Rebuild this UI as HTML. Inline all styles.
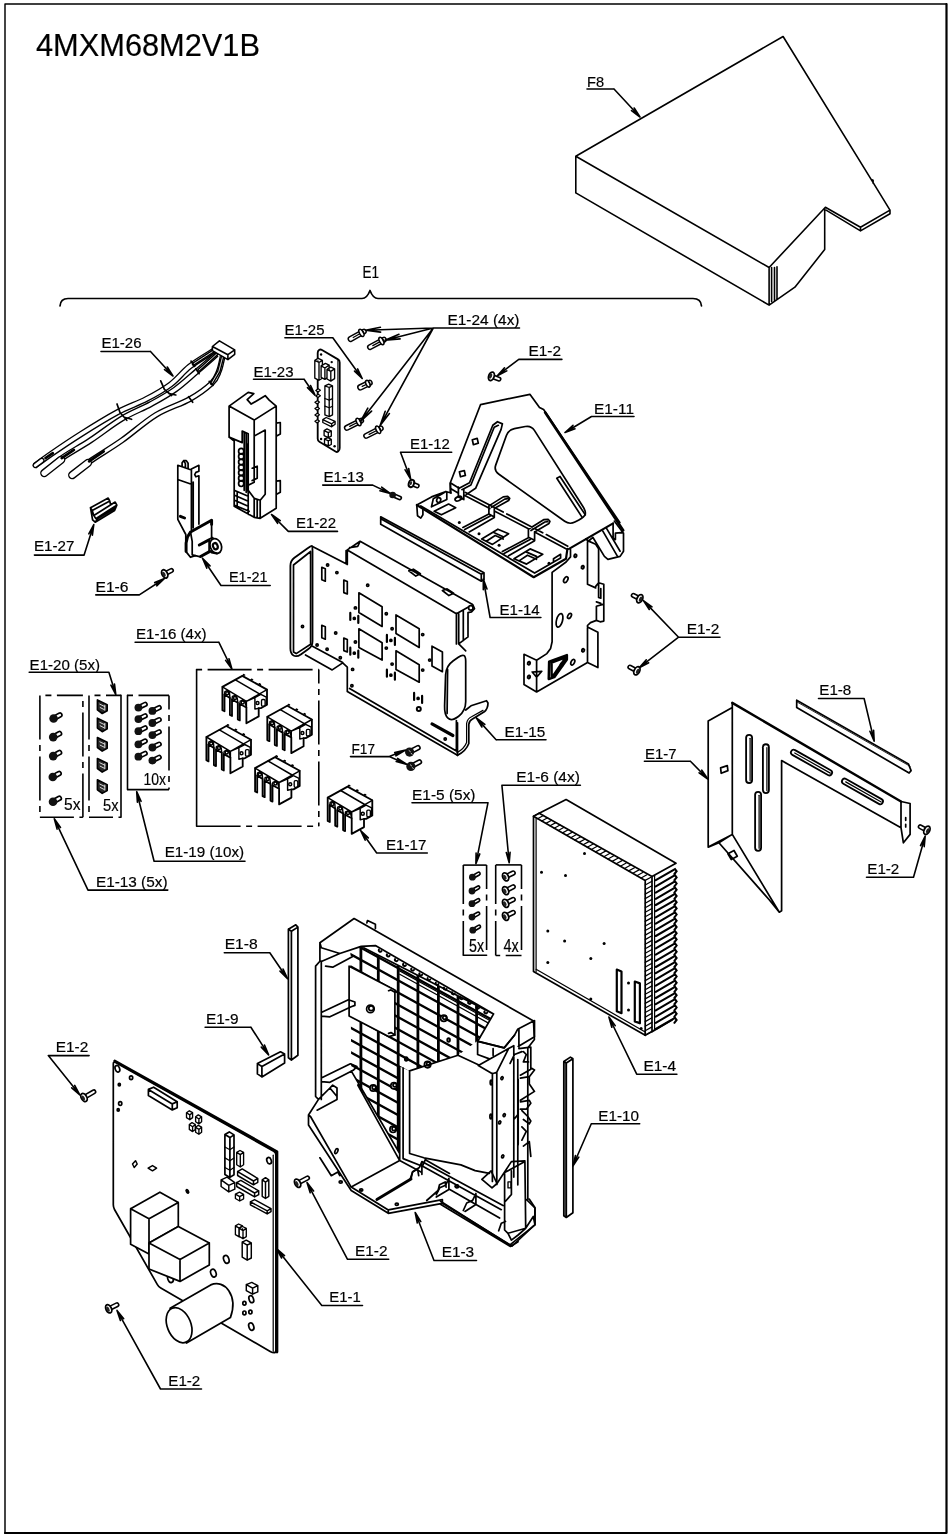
<!DOCTYPE html>
<html lang="en"><head><meta charset="utf-8"><title>4MXM68M2V1B</title>
<style>
html,body{margin:0;padding:0;background:#fff}
body{width:948px;height:1538px;overflow:hidden}
svg{display:block;will-change:transform}
svg text{font-family:"Liberation Sans",sans-serif;fill:#000;stroke:#000;stroke-width:.2px}
</style></head><body>
<svg width="948" height="1538" viewBox="0 0 948 1538" fill="none" stroke="#000" stroke-width="1.71" stroke-linecap="round" stroke-linejoin="round">
<path d="M5 1533 L5 4 L946.5 4" stroke-width="1.46"/>
<path d="M946.5 4 L946.5 1533 L5 1533" stroke-width="2.2"/>
<text x="36" y="55.6" font-size="32" textLength="224" lengthAdjust="spacingAndGlyphs">4MXM68M2V1B</text>
<path d="M60 306 Q60.5 298.5 68 298.5 L362 298.5 Q367 298.5 370 290.5 Q373 298.5 378 298.5 L693 298.5 Q701 298.5 701.5 306"/>
<text x="362.5" y="278" font-size="16" textLength="16.5" lengthAdjust="spacingAndGlyphs">E1</text>
<path d="M783.1 36.5 L575.8 156.3 L769.1 267.5 L825.4 207.2 L860.5 227.3 L890 210.1 L871.3 179.6ZM575.8 156.3 L575.8 192.9 L769.1 305.1 L769.1 267.5M769.1 305.1 L777 299.7 L794.9 287.2 L824.7 249.5 L824.7 208.3M771.6 267.5 L771.6 301.5M774.5 267.5 L774.5 300.5M777 266.8 L777 299.7M826.1 210.1 L860.5 230.9 L890 213.7 L890 210.1M860.5 227.3 L860.5 230.9M871.3 179.6 L873.1 180.3 L873.1 183.2" stroke-width="1.59"/>
<text x="587" y="86.5" font-size="15.5" textLength="17" lengthAdjust="spacingAndGlyphs">F8</text>
<path d="M587 89 L614 89M614 89 L640 117M631.5 110.6 L640 117 L634.2 108" stroke-width="1.59"/>
<path d="M70.9 475.6 C74.2 473.2 81.9 466.9 90.4 461 C98.9 455.1 111 448.1 121.9 440.4 C132.8 432.7 144.6 421.8 155.9 414.9 C167.2 408 180.5 404.4 189.8 399.1 C199.1 393.9 206.8 388 211.7 383.4 C216.5 378.8 217.1 375.6 218.9 371.2 C220.7 366.8 222 359.1 222.6 356.7" stroke-width="5.86" stroke-linecap="butt"/>
<path d="M70.9 475.6 C74.2 473.2 81.9 466.9 90.4 461 C98.9 455.1 111 448.1 121.9 440.4 C132.8 432.7 144.6 421.8 155.9 414.9 C167.2 408 180.5 404.4 189.8 399.1 C199.1 393.9 206.8 388 211.7 383.4 C216.5 378.8 217.1 375.6 218.9 371.2 C220.7 366.8 222 359.1 222.6 356.7" stroke-width="3.17" stroke="#fff" stroke-linecap="butt"/>
<path d="M43 474.4 C46 471.8 53.3 464.3 61.2 458.6 C69.1 452.9 80.3 447.1 90.4 440.4 C100.5 433.7 111.8 424.7 121.9 418.6 C132 412.5 142.1 408.9 151 404 C159.9 399.1 167.6 394.9 175.3 389.4 C183 383.9 190.2 377 197.1 371.2 C204 365.4 213.3 357.1 216.5 354.3" stroke-width="6.1" stroke-linecap="butt"/>
<path d="M43 474.4 C46 471.8 53.3 464.3 61.2 458.6 C69.1 452.9 80.3 447.1 90.4 440.4 C100.5 433.7 111.8 424.7 121.9 418.6 C132 412.5 142.1 408.9 151 404 C159.9 399.1 167.6 394.9 175.3 389.4 C183 383.9 190.2 377 197.1 371.2 C204 365.4 213.3 357.1 216.5 354.3" stroke-width="3.42" stroke="#fff" stroke-linecap="butt"/>
<path d="M34.6 465.9 C37.4 463.9 43.8 459 51.5 453.7 C59.2 448.4 69.8 441.2 80.7 434.3 C91.6 427.4 106.1 418.4 117 412.5 C127.9 406.6 137.3 403.8 146.2 399.1 C155.1 394.5 163.1 390.1 170.4 384.6 C177.7 379.2 182.5 372.1 189.8 366.4 C197.1 360.7 210.1 353.2 214.1 350.6" stroke-width="6.1" stroke-linecap="butt"/>
<path d="M34.6 465.9 C37.4 463.9 43.8 459 51.5 453.7 C59.2 448.4 69.8 441.2 80.7 434.3 C91.6 427.4 106.1 418.4 117 412.5 C127.9 406.6 137.3 403.8 146.2 399.1 C155.1 394.5 163.1 390.1 170.4 384.6 C177.7 379.2 182.5 372.1 189.8 366.4 C197.1 360.7 210.1 353.2 214.1 350.6" stroke-width="3.42" stroke="#fff" stroke-linecap="butt"/>
<path d="M211.7 383.4 L218.9 371.2 L222.6 356.7" stroke-width="3.66"/>
<path d="M211.7 383.4 L218.9 371.2 L222.6 356.7" stroke-width="0.85" stroke="#fff"/>
<path d="M199.1 370 L216.5 354.3" stroke-width="3.66"/>
<path d="M199.1 370 L216.5 354.3" stroke-width="0.85" stroke="#fff"/>
<path d="M193.5 364 L214.1 350.6" stroke-width="3.66"/>
<path d="M193.5 364 L214.1 350.6" stroke-width="0.85" stroke="#fff"/>
<path d="M72.2 475.1 L87.9 463" stroke-width="8.3" stroke-linecap="round"/>
<path d="M72.2 475.1 L87.9 463" stroke-width="5.61" stroke="#fff" stroke-linecap="round"/>
<path d="M44.3 473.1 L61.2 459.8" stroke-width="8.3" stroke-linecap="round"/>
<path d="M44.3 473.1 L61.2 459.8" stroke-width="5.61" stroke="#fff" stroke-linecap="round"/>
<path d="M35.3 465.4 L41.8 460.5" stroke-width="5.61" stroke-linecap="round"/>
<path d="M35.3 465.4 L41.8 460.5" stroke-width="2.93" stroke="#fff" stroke-linecap="round"/>
<path d="M61.7 458.1 L73.9 449.9M89.1 461.3 L103.7 451.3M45.5 458.1 L52.8 453.2" stroke-width="2.68"/>
<path d="M117 404 L120 412.5 L126.8 420.3M124.3 417.3 L131.6 419.3M160.7 380.9 L164.4 389.4 L171.6 395.5M169.2 393.6 L175.8 395M191 361.1 L194.7 366.4M195.9 368.8 L199.1 373.7M209.2 381.4 L212.9 385.3M188.6 396.7 L192.7 402.3"/>
<path d="M212.4 346.5 L219.4 340.9 L234.7 349.9 L227.9 354.7ZM212.4 346.5 L212.4 350.6 L227.9 359.6 L234.7 354.3 L234.7 349.9M227.9 354.7 L227.9 359.6" stroke-width="1.59" fill="#fff"/>
<text x="101.5" y="347.5" font-size="15.5" textLength="40" lengthAdjust="spacingAndGlyphs">E1-26</text>
<path d="M101 351.5 L150.5 351.5M150.5 351.5 L173 376M164.5 369.6 L173 376 L167.3 367" stroke-width="1.59"/>
<path d="M229.1 406.1 L248.2 392.4 L253.8 393.6 L247.2 399.7 L251.2 404.1 L265.2 395.7 L269.2 400.1 L276.2 406.1 L276.2 508.3 L260.2 518.3 L254.2 517.3 L234.2 506.3 L234.2 441.1 L229.1 437.1ZM229.1 406.1 L254.2 420.1 L276.2 406.1M254.2 420.1 L254.2 436.1M229.1 437.1 L242.2 442.6 L242.2 431.1 L248.2 433.7 L248.2 444.2M254.2 436.1 L265.2 430.1 L265.2 494.3 L260.2 500.3 L254.2 498.3 L248.2 490.3 L248.2 444.2M244.2 432.5 L244.2 490.3M246.2 433.3 L246.2 492.3M254.2 436.1 L254.2 482.2 L248.2 485.2M252.2 468.2 L257.2 466.2 L257.2 478.2 L252.2 480.6M254.2 498.3 L254.2 517.3M260.2 500.3 L260.2 518.3M257.2 499.3 L257.2 517.7M276.2 423.1 L280.3 422.5 L280.3 434.1 L276.6 436.1M276.2 481.2 L280.3 480.6 L280.3 492.3 L276.6 494.3M234.2 490.3 L248.2 496.3M234.6 495.3 L248.2 501.3M234.6 500.3 L248.2 506.3M234.6 505.3 L249.2 511.3M248.2 490.3 L248.2 514.3M237.2 492.3 L237.2 507.3"/>
<ellipse cx="241.2" cy="451.2" rx="2.6" ry="2.9"/>
<ellipse cx="241.2" cy="456.6" rx="2.6" ry="2.9"/>
<ellipse cx="241.2" cy="462" rx="2.6" ry="2.9"/>
<ellipse cx="241.2" cy="467.4" rx="2.6" ry="2.9"/>
<ellipse cx="241.2" cy="472.8" rx="2.6" ry="2.9"/>
<ellipse cx="241.2" cy="478.2" rx="2.6" ry="2.9"/>
<ellipse cx="241.2" cy="483.6" rx="2.6" ry="2.9"/>
<path d="M247.6 444.6 L247.6 490.3" stroke-width="2.68"/>
<text x="296" y="528.3" font-size="15.5" textLength="40" lengthAdjust="spacingAndGlyphs">E1-22</text>
<path d="M288.3 531.4 L337.5 531.4M288.3 531.4 L271.5 514.5M280.3 520.6 L271.5 514.5 L277.6 523.3" stroke-width="1.59"/>
<path d="M177.8 465.3 L177.8 519.3 L185.8 534.5 L185.8 551.4 L190.5 557.3 L195.2 555.6 L200.6 556.8M191.4 469 L198.9 465.3 L198.9 471.2 L195.9 472.4 L194.7 474.6 L195.9 476.8 L198.9 475.8 L198.9 524.1M177.8 465.3 L191.4 470 L191.4 529.5M182.1 466.7 L182.1 462.8 L183.8 460.6 L186.3 460.6 L188.1 463.3 L188.1 468.7M183.8 460.6 L185.4 463.6 L185.4 467.8M178.4 479.7 L191.4 484.2M193.2 482.2 L193.2 527.8"/>
<path d="M190.5 532 L211.6 520.2 L211.6 524.4M190.5 532 L187.5 537 L186.1 543 L186.1 551.4M199.3 545 L209.1 539.9M200.6 556.5 L209.9 551.4M180.4 516.3 L184.6 518" stroke-width="2.93"/>
<path d="M211.6 524.4 L211.6 538.7M190.5 532 L192.2 541.3 L192.2 554.8M192.2 554.8 L195.2 555.6M209.1 539.9 L209.1 551.4"/>
<ellipse cx="215.8" cy="546" rx="5.6" ry="7.6" fill="#fff" transform="rotate(-20 215.8 546)"/>
<ellipse cx="215.3" cy="546" rx="2.3" ry="3.2" transform="rotate(-20 215.8 546)" stroke-width="2.2"/>
<path d="M209.9 538.7 L212.8 537.6"/>
<path d="M211.6 552.2 L216.7 553.4" stroke-width="2.44"/>
<text x="229" y="582.3" font-size="15.5" textLength="38.5" lengthAdjust="spacingAndGlyphs">E1-21</text>
<path d="M221 585.5 L270.2 585.5M221 585.5 L202.5 558.3M210 565.9 L202.5 558.3 L206.8 568.1" stroke-width="1.59"/>
<path d="M90.5 507.7 L108.2 498.1 L109.8 501.1 L92.2 510.5ZM93.8 515.4 L115.2 502.1 L116.8 505.1 L95.8 518.6ZM90.5 507.7 L92.6 519.8 L95.2 522.2 L97.8 518.6M95.2 522.2 L114.6 510.5 L116.8 505.1M97.8 518.6 L115.8 507.7M92.2 510.5 L93.8 515.4M109.8 501.1 L110.6 504.5"/>
<text x="34" y="551.2" font-size="15.5" textLength="40.5" lengthAdjust="spacingAndGlyphs">E1-27</text>
<path d="M34.4 555.1 L84.1 555.1M84.1 555.1 L93.8 524.5M92.4 535.1 L93.8 524.5 L88.8 533.9" stroke-width="1.59"/>
<path d="M164.7 573.9 L171.4 570.5" stroke-width="5.25" stroke-linecap="round"/>
<path d="M164.7 573.9 L171.4 570.5" stroke-width="2.07" stroke="#fff" stroke-linecap="round"/>
<ellipse cx="164.7" cy="573.9" rx="2.7" ry="4.4" fill="#fff" stroke-width="1.83" transform="rotate(-27.1 164.7 573.9)"/>
<ellipse cx="163.9" cy="574.3" rx="1.4850000000000003" ry="2.728" fill="#222" stroke="none" transform="rotate(-27.1 163.9 574.3)"/>
<text x="95.5" y="591.7" font-size="15.5" textLength="33" lengthAdjust="spacingAndGlyphs">E1-6</text>
<path d="M95.8 594.9 L139.3 594.9M139.3 594.9 L164.5 578.5M156.7 585.8 L164.5 578.5 L154.7 582.6" stroke-width="1.59"/>
<path d="M317.7 353.1 Q317.7 351.1 319 350.1L319 350.1 Q320.3 349 322 350L338 359.4 Q339.7 360.4 339.7 362.4L339.7 448 Q339.7 450 338.4 451.2L338.4 451.2 Q337.2 452.5 335.5 451.5L319.4 441.7 Q317.7 440.7 317.7 438.7Z" stroke-width="1.83"/>
<path d="M337.9 359.7 L337.9 451.7" stroke-width="1.1"/>
<path d="M314.8 360.4 L318.2 358.3 L322.4 360.4 L319 362.5ZM314.8 360.4 L314.8 378.2 L319 380.3 L322.4 378.2 L322.4 360.4M319 362.5 L319 380.3" stroke-width="1.34" fill="#fff"/>
<path d="M321.1 365.9 L325.4 363.4 L329.2 365.1 L324.9 368ZM321.1 365.9 L321.1 377.3 L324.9 379.4 L329.2 376.5 L329.2 365.1M324.9 368 L324.9 379.4" stroke-width="1.34" fill="#fff"/>
<path d="M327 369.3 L330.8 367.2 L334.6 368.9 L330.8 371.4ZM327 369.3 L327 379 L330.8 381.1 L334.6 378.6 L334.6 368.9M330.8 371.4 L330.8 381.1" stroke-width="1.34" fill="#fff"/>
<path d="M324.9 385.8 L328.7 384.1 L332.5 385.8 L329.2 387.5ZM324.9 385.8 L324.9 414.9 L329.2 416.6 L332.5 414.9 L332.5 385.8M329.2 387.5 L329.2 416.6" stroke-width="1.34" fill="#fff"/>
<path d="M324.9 398.5 L329.2 400.1 L332.5 398.6M324.9 406.1 L329.2 407.7 L332.5 406.2" stroke-width="1.22"/>
<path d="M322.8 419.6 L326.2 417.5 L335.1 421.3 L331.7 423.8ZM322.8 419.6 L322.8 422.5 L331.7 426.8 L335.1 424.2 L335.1 421.3M331.7 423.8 L331.7 426.8" stroke-width="1.34" fill="#fff"/>
<path d="M324.1 430.6 L327 428.9 L331.3 431 L328.3 432.7ZM324.1 430.6 L324.1 435.6 L328.3 437.7 L331.3 436.1 L331.3 431M328.3 432.7 L328.3 437.7" stroke-width="1.34" fill="#fff"/>
<path d="M324.5 439 L327.9 437.7 L331.3 439.4 L328.3 440.9ZM324.5 439 L324.5 444.1 L328.3 445.9 L331.3 444.5 L331.3 439.4M328.3 440.9 L328.3 445.9" stroke-width="1.34" fill="#fff"/>
<path d="M315.8 390.4 l2.4 -1.6 l2.2 1.4 l-2.4 1.8 z" fill="#fff" stroke-width="1.22"/>
<path d="M315.8 395.9 l2.4 -1.6 l2.2 1.4 l-2.4 1.8 z" fill="#fff" stroke-width="1.22"/>
<path d="M314.9 402.3 l2.4 -1.6 l2.2 1.4 l-2.4 1.8 z" fill="#fff" stroke-width="1.22"/>
<path d="M314.9 408.6 l2.4 -1.6 l2.2 1.4 l-2.4 1.8 z" fill="#fff" stroke-width="1.22"/>
<path d="M314.9 414.9 l2.4 -1.6 l2.2 1.4 l-2.4 1.8 z" fill="#fff" stroke-width="1.22"/>
<path d="M314.9 421.3 l2.4 -1.6 l2.2 1.4 l-2.4 1.8 z" fill="#fff" stroke-width="1.22"/>
<circle cx="321.1" cy="354.5" r="1.2" fill="#000" stroke="none"/>
<circle cx="331.7" cy="362.1" r="1.2" fill="#000" stroke="none"/>
<circle cx="321.1" cy="439" r="1.2" fill="#000" stroke="none"/>
<circle cx="334.6" cy="446.2" r="1.2" fill="#000" stroke="none"/>
<path d="M350.6 339 L363.8 331.6" stroke-width="6.1"/>
<path d="M350.6 339 L363.8 331.6" stroke-width="3.17" stroke="#fff"/>
<path d="M353.2 337.5 L359.8 333.8" stroke-width="1.22"/>
<ellipse cx="361.4" cy="332.9" rx="1.9" ry="4.0" fill="#fff" stroke-width="1.52" transform="rotate(-29.3 361.4 332.9)"/>
<path d="M362.6 332.3 L363.8 331.6" stroke-width="4.64" stroke-linecap="butt"/>
<path d="M370 347.1 L383.9 339.7" stroke-width="6.1"/>
<path d="M370 347.1 L383.9 339.7" stroke-width="3.17" stroke="#fff"/>
<path d="M372.8 345.6 L379.7 341.9" stroke-width="1.22"/>
<ellipse cx="381.4" cy="341" rx="1.9" ry="4.0" fill="#fff" stroke-width="1.52" transform="rotate(-28 381.4 341)"/>
<path d="M382.6 340.4 L383.9 339.7" stroke-width="4.64" stroke-linecap="butt"/>
<path d="M346.9 427.8 L361.1 420.7" stroke-width="6.1"/>
<path d="M346.9 427.8 L361.1 420.7" stroke-width="3.17" stroke="#fff"/>
<path d="M349.7 426.4 L356.8 422.8" stroke-width="1.22"/>
<ellipse cx="358.5" cy="422" rx="1.9" ry="4.0" fill="#fff" stroke-width="1.52" transform="rotate(-26.6 358.5 422)"/>
<path d="M359.8 421.3 L361.1 420.7" stroke-width="4.64" stroke-linecap="butt"/>
<path d="M366.2 435.9 L380.7 428.5" stroke-width="6.1"/>
<path d="M366.2 435.9 L380.7 428.5" stroke-width="3.17" stroke="#fff"/>
<path d="M369.1 434.4 L376.3 430.7" stroke-width="1.22"/>
<ellipse cx="378.1" cy="429.8" rx="1.9" ry="4.0" fill="#fff" stroke-width="1.52" transform="rotate(-27 378.1 429.8)"/>
<path d="M379.4 429.2 L380.7 428.5" stroke-width="4.64" stroke-linecap="butt"/>
<path d="M360.4 387.3 L369.5 382.9" stroke-width="6.59"/>
<path d="M360.4 387.3 L369.5 382.9" stroke-width="3.66" stroke="#fff"/>
<path d="M362.2 386.4 L366.8 384.2" stroke-width="1.22"/>
<ellipse cx="367.9" cy="383.7" rx="1.9" ry="3.6" fill="#fff" stroke-width="1.52" transform="rotate(-25.8 367.9 383.7)"/>
<path d="M368.7 383.3 L369.5 382.9" stroke-width="5.12" stroke-linecap="butt"/>
<text x="284.5" y="335.4" font-size="15.5" textLength="40" lengthAdjust="spacingAndGlyphs">E1-25</text>
<path d="M284.9 337.8 L332.8 337.8M332.8 337.8 L362.2 378.5M354.5 371.1 L362.2 378.5 L357.6 368.9" stroke-width="1.59"/>
<text x="253.5" y="377" font-size="15.5" textLength="40" lengthAdjust="spacingAndGlyphs">E1-23</text>
<path d="M253.5 379.3 L304.1 379.3M304.1 379.3 L315 395.2M307.5 387.6 L315 395.2 L310.6 385.5" stroke-width="1.59"/>
<text x="447.5" y="325.2" font-size="15.5" textLength="72" lengthAdjust="spacingAndGlyphs">E1-24 (4x)</text>
<path d="M433.3 328 L519.5 328M433.3 328 L365.5 330.2M380.4 327.3 L365.5 330.2 L380.6 332.1M433.3 328 L385 340.2M399 334.2 L385 340.2 L400.1 338.9M433.3 328 L360.5 421.5M367.8 408.2 L360.5 421.5 L371.6 411.1M433.3 328 L380.1 425.6M385.2 411.3 L380.1 425.6 L389.4 413.6" stroke-width="1.59"/>
<path d="M450.3 482.8 L480.5 404.7 L529.9 394.3 L539.5 407.4 L543.6 409.6 L619.8 522.6M450.3 482.8 L450.9 493M450.3 482.8 L459.1 488.3"/>
<path d="M545.2 412.4 L623.1 530.3" stroke-width="2.68"/>
<path d="M498.6 474 Q493.7 470.5 495.8 464.9L506.4 435.5 Q508.5 429.9 514.4 428.7L525.3 426.5 Q531.2 425.3 534.4 430.4L582.9 506.5 Q586.1 511.6 585.2 514.4L585.2 514.4 Q584.2 517.1 578.9 519.9L574.9 522 Q569.6 524.8 564.7 521.3Z"/>
<path d="M459.1 488.3 L469.5 482.8 L492.8 425.3 L497.5 421.7 L502.4 423.9 L501.1 429.4 L475.6 488.3 L466.2 494.6M461.9 489.7 L470.9 485 L494.2 427.2 L498.3 425.3M472.3 439.8 L477.2 438.4 L478.3 443.1 L473.4 444.7ZM459.4 471.9 L464.3 470.5 L465.4 475.4 L460.5 476.8ZM556.8 478.2 L560 476.5 L585.3 514.9M556.8 478.2 L582 517.1"/>
<path d="M450.3 483.4 L450.3 491.2M416.8 505 L431.5 496.9 L445.9 491.5 L450.9 493M416.8 505 L417.5 515.7 L420.8 518.1 L422.9 514.8 L422.9 509.5M420.8 505.9 L534.6 573.1 L560.6 557.9M431.5 506.8 L433.3 498.7 L441.4 494.2 L445.9 491.5M431.5 506.8 L446.8 499.6 L446.8 492.4M434.2 511.2 L448.6 504.1 L455.7 507.7 L441.4 514.8ZM450.9 488.8 L458.1 493M463.8 495.1 L489.8 508.6M494.3 510.9 L528.4 528.8M534.6 531.9 L566.4 548.9M465.6 492.4 L503.2 512.1M506.8 513.9 L542.7 532.8M546.3 534.6 L567.8 546.2M458.4 487 L458.4 496.9 L463.8 499.6 L463.8 489.7M488.9 505.9 L488.9 513.9 L494.3 517 L494.3 508.6M488.9 505.9 L503.2 496.9 L507.7 496.4 L509.7 498.3 L508.6 500.5 L494.3 508.6M491.6 507.3 L504.7 499.1 L507.7 498.7M528.4 529.2 L528.4 537.2 L534.6 540.3 L534.6 531.9M528.4 529.2 L543.6 519.7 L548.1 519.3 L549.9 521.3 L549 523.4 L534.6 531.9M531 530.6 L544.9 522 L547.7 521.6M462.9 527.4 L488.9 513.9M464.7 529.5 L490.7 515.7M469.2 531.9 L494.3 517.5M502.4 551.6 L528.4 537.8M504.1 553.4 L530.1 539.6M508.6 555.7 L534.6 540.8M481.7 539 L497.9 529.2 L508.6 533.7 L492.5 544.4ZM487.1 540.8 L495.2 535.5 L503.2 539M494.3 532.8 L503.2 536.7M514 558.8 L530.1 548.9 L542.7 554.3 L526.6 564.1ZM519.4 560.6 L527.5 555.2 L536.4 559.3M526.6 552.1 L536.4 556.4M560.6 557.9 L560.6 554.3 L553.5 558.8 L553.5 561.5"/>
<path d="M416.8 505 L533.7 577.2 L566 558.8 L567.4 548.9" stroke-width="2.2"/>
<ellipse cx="458.4" cy="498.7" rx="3.6" ry="2" transform="rotate(-25 458.4 498.7)"/>
<ellipse cx="438.7" cy="500.1" rx="2" ry="2.4" transform="rotate(20 438.7 500.1)"/>
<circle cx="459.3" cy="522.4" r="1.5" fill="#000" stroke="none"/>
<circle cx="479" cy="533.7" r="1.5" fill="#000" stroke="none"/>
<circle cx="499.1" cy="545.3" r="1.5" fill="#000" stroke="none"/>
<circle cx="549" cy="563.2" r="1.5" fill="#000" stroke="none"/>
<path d="M569 548.9 L613.1 523.4" stroke-width="2.2"/>
<path d="M614.3 521.1 L623.5 533.2 L623.5 551.2 L620.1 556.4 L607.9 559.3 L604.4 556.4 L592.8 537.3M613.1 523.4 L613.1 537.9 L615.4 539.6 L615.4 533.2 L621.2 532.7 L623.5 533.2M602.7 530.9 L617.2 555.9M606.7 528.6 L620.1 551.2M585.8 539 L588.7 541 L592.8 537.3"/>
<path d="M570.5 549.5 L570.5 556.9 L566.1 562 L552.1 572.4 L552.1 641.8 L550.6 648.4 L546.9 653.6 L536.6 660.2 L524 654.3 L524 684.6 L536.6 692 L587.5 662.4 L587.5 625.5 L590.5 622.6 L596.4 620.4M587.5 540.6 L587.5 584.2 L595.7 587.9M587.5 540.6 L595.7 544.3 L598.6 548.7 L598.6 582.7 L595.7 586.4M598.6 582.7 L603.8 584.2 L603.8 621.1 L600.1 621.8 L596.4 620.4 L596.4 606.3M598.6 582.7 L598.6 597.5 L600.8 598.2 L600.8 588.6M596.4 606.3 L603.8 604.1M596.4 601.9 L600.8 603.4M587.5 627 L597.9 632.2 L597.9 667.6 L587.5 662.4M536.6 660.2 L536.6 692M532.2 672 L541.8 671.3 L536.6 677.2Z"/>
<path d="M549.1 661.7 L566.9 655.1 L566.9 659.5 L554.3 677.2 L548.7 679ZM551.6 662.7 L551.6 676.5 L554.3 674.3 L564.9 658.8 L564.9 657.7 L551.6 662.7" stroke-width="2.44"/>
<ellipse cx="575.4" cy="555.8" rx="1.2" ry="1.5" transform="rotate(20 575.4 555.8)" stroke-width="1.95"/>
<ellipse cx="582.7" cy="567.2" rx="1.2" ry="1.5" transform="rotate(20 582.7 567.2)" stroke-width="1.95"/>
<ellipse cx="583.1" cy="650.3" rx="1.2" ry="1.5" transform="rotate(20 583.1 650.3)" stroke-width="1.95"/>
<ellipse cx="528.9" cy="663.2" rx="1.2" ry="1.5" transform="rotate(20 528.9 663.2)" stroke-width="1.95"/>
<ellipse cx="528.9" cy="676.9" rx="1.2" ry="1.5" transform="rotate(20 528.9 676.9)" stroke-width="1.95"/>
<ellipse cx="561.7" cy="664.7" rx="1.2" ry="1.5" transform="rotate(20 561.7 664.7)" stroke-width="1.95"/>
<ellipse cx="565.8" cy="579.7" rx="1.8" ry="3.2" transform="rotate(30 565.8 579.7)"/>
<ellipse cx="569.5" cy="615.9" rx="1.6" ry="2.8" transform="rotate(30 569.5 615.9)"/>
<ellipse cx="559.5" cy="620.4" rx="3" ry="7" transform="rotate(15 559.5 620.4)"/>
<ellipse cx="572.8" cy="662.2" rx="1.7" ry="3" transform="rotate(25 572.8 662.2)"/>
<text x="594" y="413.5" font-size="15.5" textLength="40" lengthAdjust="spacingAndGlyphs">E1-11</text>
<path d="M591.5 416.5 L634 416.5M591.5 416.5 L565 432.5M573 425.4 L565 432.5 L575 428.7" stroke-width="1.59"/>
<path d="M290.4 565.8 Q290.4 560.8 294.4 557.8L307.3 548.5 Q311.3 545.5 311.9 546L311.9 546 Q312.5 546.4 312.5 551.4L312.5 641.2 Q312.5 646.2 308.4 649.1L300.8 654.4 Q296.7 657.3 293.5 655.5L293.5 655.5 Q290.4 653.6 290.4 648.6Z" stroke-width="1.83"/>
<path d="M293.5 565 L310.6 551.5M293.5 565 L293.5 652 L296.2 653.6 L310.6 644.3M312.5 546.4 L346.1 563.8 L346.1 550.6M312.5 646.2 L342.7 662.4M305.5 655 L332.2 669.9 L342.7 662.9 L347.3 667.1M310.6 644.3 L310.6 551.5M347.3 549.9 L360.1 541.3 L472.6 604.4 L474.5 608.6 L471.5 611.9 L468 612.6 L468 636.9 L458.7 643.9M347.3 549.9 L456.4 613.7 L468 607.2M349.6 547.6 L357.7 546.4 L360.1 541.3M347.3 549.9 L347.3 564.5M347.3 667.1 L347.3 691.5 L457.5 755.3M349.6 688.4 L456.4 751.1 L456.4 720.5M458.7 613.7 L458.7 643.9 L465.7 650.8M456.4 613.7 L456.4 643.9M463.3 610.9 L463.3 640.4M408.8 570.8 L413.4 569.2 L420.4 573.8 L415.8 576.1ZM442.4 590.5 L447.1 588.9 L453.6 593.3 L448.9 595.6ZM432 646.2 L442.4 652 L442.4 671.7 L432 665.9ZM358.9 592.8 L382.1 606.8 L382.1 626.5 L358.9 612.6ZM358.9 628.8 L382.1 642.7 L382.1 660.1 L358.9 647.4ZM396 614.9 L419.2 628.8 L419.2 647.4 L396 633.4ZM396 650.8 L419.2 664.8 L419.2 682.2 L396 669.4ZM321.8 567.3 L325.3 568.7 L325.3 581.2 L321.8 579.8ZM343.8 580.1 L347.3 581.5 L347.3 594 L343.8 592.6ZM321.8 625.3 L325.3 626.7 L325.3 639.2 L321.8 637.8ZM343.8 638.1 L347.3 639.5 L347.3 652 L343.8 650.6Z"/>
<path d="M465.7 661 Q465.7 652 458.3 657.2L453.3 660.7 Q445.9 665.9 445.6 674.9L444.6 705.7 Q444.3 714.7 448 718.2L448 718.2 Q451.7 721.6 458.7 716.2L458.7 716.2 Q465.7 710.7 465.7 701.7Z" fill="#fff"/>
<path d="M447.6 669.4 L447.1 713.5"/>
<path d="M432 723.9 L452.9 735.5" stroke-width="3.17"/>
<path d="M457.5 755.3 L457.5 722.8"/>
<circle cx="327.6" cy="565" r="1.1" stroke-width="1.71"/>
<circle cx="336.9" cy="572.6" r="1.1" stroke-width="1.71"/>
<circle cx="367.7" cy="585.2" r="1.1" stroke-width="1.71"/>
<circle cx="355.4" cy="607.9" r="1.1" stroke-width="1.71"/>
<circle cx="386.3" cy="613.7" r="1.1" stroke-width="1.71"/>
<circle cx="392.1" cy="628.8" r="1.1" stroke-width="1.71"/>
<circle cx="422.7" cy="634.6" r="1.1" stroke-width="1.71"/>
<circle cx="355.4" cy="642" r="1.1" stroke-width="1.71"/>
<circle cx="386.3" cy="648.1" r="1.1" stroke-width="1.71"/>
<circle cx="392.1" cy="664.1" r="1.1" stroke-width="1.71"/>
<circle cx="422.7" cy="670.1" r="1.1" stroke-width="1.71"/>
<circle cx="429.7" cy="660.1" r="1.1" stroke-width="1.71"/>
<circle cx="302.5" cy="626.5" r="1.1" stroke-width="1.71"/>
<circle cx="335.7" cy="633" r="1.1" stroke-width="1.71"/>
<circle cx="317.1" cy="645" r="1.1" stroke-width="1.71"/>
<circle cx="327.1" cy="649.2" r="1.1" stroke-width="1.71"/>
<circle cx="340.3" cy="657.8" r="1.1" stroke-width="1.71"/>
<circle cx="352.6" cy="669.4" r="1.1" stroke-width="1.71"/>
<circle cx="351.9" cy="685.7" r="1.1" stroke-width="1.71"/>
<circle cx="445.2" cy="739" r="1.1" stroke-width="1.71"/>
<circle cx="418.8" cy="708.9" r="2" stroke-width="1.95"/>
<circle cx="470.8" cy="607.9" r="2.2"/>
<path d="M350.3 612.9 v7 M358.3 615.9 v7" stroke-width="2.2"/><circle cx="354.3" cy="618.4" r="1" fill="#000"/>
<path d="M386.9 634.9 v7 M394.9 637.9 v7" stroke-width="2.2"/><circle cx="390.9" cy="640.4" r="1" fill="#000"/>
<path d="M350.3 647.7 v7 M358.3 650.7 v7" stroke-width="2.2"/><circle cx="354.3" cy="653.2" r="1" fill="#000"/>
<path d="M386.9 669.7 v7 M394.9 672.7 v7" stroke-width="2.2"/><circle cx="390.9" cy="675.2" r="1" fill="#000"/>
<path d="M414.1 692.9 v7 M422.1 695.9 v7" stroke-width="2.2"/><circle cx="418.1" cy="698.4" r="1" fill="#000"/>
<path d="M380.7 516.8 L484 572.8 L484 579.5 L481.3 581.2 L380.7 524.2ZM380.7 518.8 L481.3 574.2 L481.3 581.2M481.3 574.2 L484 572.8"/>
<path d="M457.5 755.3 Q466 751 468.8 743.5 L468.8 724.3 Q469.5 720.5 472.5 719.1 L484.3 711.8 Q488 708.5 488 702.9 L486.5 700.7 L471 705.8 L465.7 710"/>
<path d="M457 752.6 Q464 749 466.6 742.5 L466.6 723.5 Q467.5 718.5 471.5 716.8 L483 710.4" stroke-width="1.22"/>
<path d="M222.4 686.9 L242.3 675.9 L267 689.6 L267 704.7 L260.8 708.2 L258.7 708.2 L258.7 716.4 L246.4 723.2 L246.4 707.5 L239.8 704 L239.8 720.4 L237.8 719.4 L237.8 702.7 L232 699.5 L232 716 L229.9 715 L229.9 697.9 L224.5 694.4 L224.5 711.3 L222.4 710.2Z" fill="#fff" stroke-width="1.83"/>
<path d="M222.4 686.9 L246.4 701.3 L267 689.6M246.4 701.3 L246.4 707.5M235.4 679.8 L259.4 693.8M246.4 701.3 L254.9 697.6 L254.9 709.1 L258.7 708.2M254.9 697.6 L260.8 694.4 L266.3 697.2 L266.3 704.7M224.5 694.4 L224.9 691.7 L227.2 690.7 L229.5 693.1 L229.9 697.9M232 699.5 L232.4 696.5 L235 695.4 L237.2 697.9 L237.8 702.7M239.8 704 L240.2 701.2 L242.7 700.1 L245.2 702.3 L246.4 707.5M243 675.4 L243.7 674.6 L244.6 675.1M250.9 680 L251.6 679.2 L252.6 679.8M258.7 684.6 L259.4 683.7 L260.4 684.3" stroke-width="1.46"/>
<circle cx="227.2" cy="693.3" r="1.5" stroke-width="1.46"/>
<circle cx="235" cy="697.9" r="1.5" stroke-width="1.46"/>
<circle cx="242.7" cy="702.4" r="1.5" stroke-width="1.46"/>
<circle cx="257.5" cy="703.1" r="1.5" stroke-width="1.46"/>
<rect x="261.5" y="699.5" width="3.6" height="6.6" rx="1.2" stroke-width="1.34"/>
<path d="M267.3 716.8 L287.2 705.8 L311.9 719.5 L311.9 734.6 L305.7 738.1 L303.6 738.1 L303.6 746.3 L291.3 753.1 L291.3 737.4 L284.7 733.9 L284.7 750.3 L282.7 749.3 L282.7 732.6 L276.9 729.4 L276.9 745.9 L274.8 744.9 L274.8 727.8 L269.4 724.3 L269.4 741.2 L267.3 740.1Z" fill="#fff" stroke-width="1.83"/>
<path d="M267.3 716.8 L291.3 731.2 L311.9 719.5M291.3 731.2 L291.3 737.4M280.3 709.7 L304.3 723.7M291.3 731.2 L299.8 727.5 L299.8 739 L303.6 738.1M299.8 727.5 L305.7 724.3 L311.2 727.1 L311.2 734.6M269.4 724.3 L269.8 721.6 L272.1 720.6 L274.4 723 L274.8 727.8M276.9 729.4 L277.3 726.4 L279.9 725.3 L282.1 727.8 L282.7 732.6M284.7 733.9 L285.1 731.1 L287.6 730 L290.1 732.2 L291.3 737.4M287.9 705.3 L288.6 704.5 L289.5 705M295.8 709.9 L296.5 709.1 L297.5 709.7M303.6 714.5 L304.3 713.6 L305.3 714.2" stroke-width="1.46"/>
<circle cx="272.1" cy="723.2" r="1.5" stroke-width="1.46"/>
<circle cx="279.9" cy="727.8" r="1.5" stroke-width="1.46"/>
<circle cx="287.6" cy="732.3" r="1.5" stroke-width="1.46"/>
<circle cx="302.4" cy="733" r="1.5" stroke-width="1.46"/>
<rect x="306.4" y="729.4" width="3.6" height="6.6" rx="1.2" stroke-width="1.34"/>
<path d="M206.4 737 L226.3 726 L251 739.7 L251 754.8 L244.8 758.3 L242.7 758.3 L242.7 766.5 L230.4 773.3 L230.4 757.6 L223.8 754.1 L223.8 770.5 L221.8 769.5 L221.8 752.8 L216 749.6 L216 766.1 L213.9 765.1 L213.9 748 L208.5 744.5 L208.5 761.4 L206.4 760.3Z" fill="#fff" stroke-width="1.83"/>
<path d="M206.4 737 L230.4 751.4 L251 739.7M230.4 751.4 L230.4 757.6M219.4 729.9 L243.4 743.9M230.4 751.4 L238.9 747.7 L238.9 759.2 L242.7 758.3M238.9 747.7 L244.8 744.5 L250.3 747.3 L250.3 754.8M208.5 744.5 L208.9 741.8 L211.2 740.8 L213.5 743.2 L213.9 748M216 749.6 L216.4 746.6 L219 745.5 L221.2 748 L221.8 752.8M223.8 754.1 L224.2 751.3 L226.7 750.2 L229.2 752.4 L230.4 757.6M227 725.5 L227.7 724.7 L228.6 725.2M234.9 730.1 L235.6 729.3 L236.6 729.9M242.7 734.7 L243.4 733.8 L244.4 734.4" stroke-width="1.46"/>
<circle cx="211.2" cy="743.4" r="1.5" stroke-width="1.46"/>
<circle cx="219" cy="748" r="1.5" stroke-width="1.46"/>
<circle cx="226.7" cy="752.5" r="1.5" stroke-width="1.46"/>
<circle cx="241.5" cy="753.2" r="1.5" stroke-width="1.46"/>
<rect x="245.5" y="749.6" width="3.6" height="6.6" rx="1.2" stroke-width="1.34"/>
<path d="M255.1 768.1 L275 757.1 L299.7 770.8 L299.7 785.9 L293.5 789.4 L291.4 789.4 L291.4 797.6 L279.1 804.4 L279.1 788.7 L272.5 785.2 L272.5 801.6 L270.5 800.6 L270.5 783.9 L264.7 780.7 L264.7 797.2 L262.6 796.2 L262.6 779.1 L257.2 775.6 L257.2 792.5 L255.1 791.4Z" fill="#fff" stroke-width="1.83"/>
<path d="M255.1 768.1 L279.1 782.5 L299.7 770.8M279.1 782.5 L279.1 788.7M268.1 761 L292.1 775M279.1 782.5 L287.6 778.8 L287.6 790.3 L291.4 789.4M287.6 778.8 L293.5 775.6 L299 778.4 L299 785.9M257.2 775.6 L257.6 772.9 L259.9 771.9 L262.2 774.3 L262.6 779.1M264.7 780.7 L265.1 777.7 L267.7 776.6 L269.9 779.1 L270.5 783.9M272.5 785.2 L272.9 782.4 L275.4 781.3 L277.9 783.5 L279.1 788.7M275.7 756.6 L276.4 755.8 L277.3 756.3M283.6 761.2 L284.3 760.4 L285.3 761M291.4 765.8 L292.1 764.9 L293.1 765.5" stroke-width="1.46"/>
<circle cx="259.9" cy="774.5" r="1.5" stroke-width="1.46"/>
<circle cx="267.7" cy="779.1" r="1.5" stroke-width="1.46"/>
<circle cx="275.4" cy="783.6" r="1.5" stroke-width="1.46"/>
<circle cx="290.2" cy="784.3" r="1.5" stroke-width="1.46"/>
<rect x="294.2" y="780.7" width="3.6" height="6.6" rx="1.2" stroke-width="1.34"/>
<path d="M327.7 797.6 L347.6 786.6 L372.3 800.3 L372.3 815.4 L366.1 818.9 L364 818.9 L364 827.1 L351.7 833.9 L351.7 818.2 L345.1 814.7 L345.1 831.1 L343.1 830.1 L343.1 813.4 L337.3 810.2 L337.3 826.7 L335.2 825.7 L335.2 808.6 L329.8 805.1 L329.8 822 L327.7 820.9Z" fill="#fff" stroke-width="1.83"/>
<path d="M327.7 797.6 L351.7 812 L372.3 800.3M351.7 812 L351.7 818.2M340.7 790.5 L364.7 804.5M351.7 812 L360.2 808.3 L360.2 819.8 L364 818.9M360.2 808.3 L366.1 805.1 L371.6 807.9 L371.6 815.4M329.8 805.1 L330.2 802.4 L332.5 801.4 L334.8 803.8 L335.2 808.6M337.3 810.2 L337.7 807.2 L340.3 806.1 L342.5 808.6 L343.1 813.4M345.1 814.7 L345.5 811.9 L348 810.8 L350.5 813 L351.7 818.2M348.3 786.1 L349 785.3 L349.9 785.8M356.2 790.7 L356.9 789.9 L357.9 790.5M364 795.3 L364.7 794.4 L365.7 795" stroke-width="1.46"/>
<circle cx="332.5" cy="804" r="1.5" stroke-width="1.46"/>
<circle cx="340.3" cy="808.6" r="1.5" stroke-width="1.46"/>
<circle cx="348" cy="813.1" r="1.5" stroke-width="1.46"/>
<circle cx="362.8" cy="813.8" r="1.5" stroke-width="1.46"/>
<rect x="366.8" y="810.2" width="3.6" height="6.6" rx="1.2" stroke-width="1.34"/>
<text x="386" y="849.6" font-size="15.5" textLength="40.5" lengthAdjust="spacingAndGlyphs">E1-17</text>
<path d="M376.7 853 L427.3 853M376.7 853 L360.6 830.5M368.3 837.9 L360.6 830.5 L365.2 840.1" stroke-width="1.59"/>
<path d="M39.9 695.4 L82.9 695.4" stroke-width="1.59" stroke-linecap="butt" stroke-dasharray="44 5.5 6 5.5" stroke-dashoffset="44"/>
<path d="M82.9 695.4 L82.9 817.2" stroke-width="1.59" stroke-linecap="butt" stroke-dasharray="44 5.5 6 5.5" stroke-dashoffset="44"/>
<path d="M39.9 817.2 L82.9 817.2" stroke-width="1.59" stroke-linecap="butt" stroke-dasharray="44 5.5 6 5.5" stroke-dashoffset="10"/>
<path d="M39.9 695.4 L39.9 817.2" stroke-width="1.59" stroke-linecap="butt" stroke-dasharray="44 5.5 6 5.5" stroke-dashoffset="0"/>
<path d="M89 695.4 L121 695.4" stroke-width="1.59" stroke-linecap="butt" stroke-dasharray="44 5.5 6 5.5" stroke-dashoffset="44"/>
<path d="M121 695.4 L121 817.2" stroke-width="1.59"/>
<path d="M89 817.2 L121 817.2" stroke-width="1.59" stroke-linecap="butt" stroke-dasharray="44 5.5 6 5.5" stroke-dashoffset="20"/>
<path d="M89 695.4 L89 817.2" stroke-width="1.59" stroke-linecap="butt" stroke-dasharray="44 5.5 6 5.5" stroke-dashoffset="0"/>
<path d="M127.5 695.4 L169 695.4" stroke-width="1.59" stroke-linecap="butt" stroke-dasharray="44 5.5 6 5.5" stroke-dashoffset="50"/>
<path d="M169 695.4 L169 789.6" stroke-width="1.59" stroke-linecap="butt" stroke-dasharray="44 5.5 6 5.5" stroke-dashoffset="30"/>
<path d="M127.5 789.6 L169 789.6" stroke-width="1.59" stroke-linecap="butt" stroke-dasharray="44 5.5 6 5.5" stroke-dashoffset="0"/>
<path d="M127.5 695.4 L127.5 789.6" stroke-width="1.59"/>
<path d="M196.6 669.6 L318.8 669.6" stroke-width="1.59" stroke-linecap="butt" stroke-dasharray="44 5.5 6 5.5" stroke-dashoffset="50"/>
<path d="M318.8 669.6 L318.8 826.2" stroke-width="1.59" stroke-linecap="butt" stroke-dasharray="44 5.5 6 5.5" stroke-dashoffset="30"/>
<path d="M196.6 826.2 L318.8 826.2" stroke-width="1.59" stroke-linecap="butt" stroke-dasharray="44 5.5 6 5.5" stroke-dashoffset="0"/>
<path d="M196.6 669.6 L196.6 826.2" stroke-width="1.59"/>
<text x="64" y="809.7" font-size="17" textLength="16.5" lengthAdjust="spacingAndGlyphs">5x</text>
<text x="103" y="811.3" font-size="17" textLength="15.5" lengthAdjust="spacingAndGlyphs">5x</text>
<text x="143.5" y="785.1" font-size="17" textLength="22.5" lengthAdjust="spacingAndGlyphs">10x</text>
<path d="M53.6 718.5 L59.9 715" stroke-width="5.73"/>
<path d="M57.3 716.4 L59.9 715" stroke-width="2.44" stroke="#fff"/>
<circle cx="53.6" cy="718.5" r="4.3" fill="#111" stroke="none"/>
<path d="M53.2 737.1 L59.5 733.6" stroke-width="5.73"/>
<path d="M56.9 735 L59.5 733.6" stroke-width="2.44" stroke="#fff"/>
<circle cx="53.2" cy="737.1" r="4.3" fill="#111" stroke="none"/>
<path d="M53.2 756.1 L59.5 752.6" stroke-width="5.73"/>
<path d="M56.9 754 L59.5 752.6" stroke-width="2.44" stroke="#fff"/>
<circle cx="53.2" cy="756.1" r="4.3" fill="#111" stroke="none"/>
<path d="M52.8 777 L59.1 773.5" stroke-width="5.73"/>
<path d="M56.5 774.9 L59.1 773.5" stroke-width="2.44" stroke="#fff"/>
<circle cx="52.8" cy="777" r="4.3" fill="#111" stroke="none"/>
<path d="M53 801.8 L59.3 798.3" stroke-width="5.73"/>
<path d="M56.7 799.7 L59.3 798.3" stroke-width="2.44" stroke="#fff"/>
<circle cx="53" cy="801.8" r="4.3" fill="#111" stroke="none"/>
<path d="M138.4 707.6 L145.2 704.3" stroke-width="5.37"/>
<path d="M141.9 705.9 L145.2 704.3" stroke-width="2.07" stroke="#fff"/>
<circle cx="138.4" cy="707.6" r="3.9" fill="#111" stroke="none"/>
<path d="M138.4 719.1 L145.2 715.8" stroke-width="5.37"/>
<path d="M141.9 717.4 L145.2 715.8" stroke-width="2.07" stroke="#fff"/>
<circle cx="138.4" cy="719.1" r="3.9" fill="#111" stroke="none"/>
<path d="M138.4 731.2 L145.2 727.9" stroke-width="5.37"/>
<path d="M141.9 729.5 L145.2 727.9" stroke-width="2.07" stroke="#fff"/>
<circle cx="138.4" cy="731.2" r="3.9" fill="#111" stroke="none"/>
<path d="M138.4 744.3 L145.2 741" stroke-width="5.37"/>
<path d="M141.9 742.6 L145.2 741" stroke-width="2.07" stroke="#fff"/>
<circle cx="138.4" cy="744.3" r="3.9" fill="#111" stroke="none"/>
<path d="M138.4 756.7 L145.2 753.4" stroke-width="5.37"/>
<path d="M141.9 755 L145.2 753.4" stroke-width="2.07" stroke="#fff"/>
<circle cx="138.4" cy="756.7" r="3.9" fill="#111" stroke="none"/>
<path d="M152.4 710.9 L159.2 707.6" stroke-width="5.37"/>
<path d="M155.9 709.2 L159.2 707.6" stroke-width="2.07" stroke="#fff"/>
<circle cx="152.4" cy="710.9" r="3.9" fill="#111" stroke="none"/>
<path d="M152.4 723 L159.2 719.7" stroke-width="5.37"/>
<path d="M155.9 721.3 L159.2 719.7" stroke-width="2.07" stroke="#fff"/>
<circle cx="152.4" cy="723" r="3.9" fill="#111" stroke="none"/>
<path d="M152.4 735.1 L159.2 731.8" stroke-width="5.37"/>
<path d="M155.9 733.4 L159.2 731.8" stroke-width="2.07" stroke="#fff"/>
<circle cx="152.4" cy="735.1" r="3.9" fill="#111" stroke="none"/>
<path d="M152.4 747.5 L159.2 744.2" stroke-width="5.37"/>
<path d="M155.9 745.8 L159.2 744.2" stroke-width="2.07" stroke="#fff"/>
<circle cx="152.4" cy="747.5" r="3.9" fill="#111" stroke="none"/>
<path d="M152.4 760.6 L159.2 757.3" stroke-width="5.37"/>
<path d="M155.9 758.9 L159.2 757.3" stroke-width="2.07" stroke="#fff"/>
<circle cx="152.4" cy="760.6" r="3.9" fill="#111" stroke="none"/>
<path d="M97.4 699.9 l9.8 4.8 l0 6 l-5 2.8 l-4.8 -3.6 z" fill="#2a2a2a" stroke-width="1.59"/>
<path d="M99.8 704.2 l5 2.4 M100.2 707.6 l4 2 M104.8 705.2 l0 5" stroke="#ddd" stroke-width="0.98"/>
<path d="M97.4 718.1 l9.8 4.8 l0 6 l-5 2.8 l-4.8 -3.6 z" fill="#2a2a2a" stroke-width="1.59"/>
<path d="M99.8 722.4 l5 2.4 M100.2 725.8 l4 2 M104.8 723.4 l0 5" stroke="#ddd" stroke-width="0.98"/>
<path d="M97.4 737.5 l9.8 4.8 l0 6 l-5 2.8 l-4.8 -3.6 z" fill="#2a2a2a" stroke-width="1.59"/>
<path d="M99.8 741.8 l5 2.4 M100.2 745.2 l4 2 M104.8 742.8 l0 5" stroke="#ddd" stroke-width="0.98"/>
<path d="M97.4 758.5 l9.8 4.8 l0 6 l-5 2.8 l-4.8 -3.6 z" fill="#2a2a2a" stroke-width="1.59"/>
<path d="M99.8 762.8 l5 2.4 M100.2 766.2 l4 2 M104.8 763.8 l0 5" stroke="#ddd" stroke-width="0.98"/>
<path d="M97.4 779.8 l9.8 4.8 l0 6 l-5 2.8 l-4.8 -3.6 z" fill="#2a2a2a" stroke-width="1.59"/>
<path d="M99.8 784.1 l5 2.4 M100.2 787.5 l4 2 M104.8 785.1 l0 5" stroke="#ddd" stroke-width="0.98"/>
<text x="136" y="638.6" font-size="15.5" textLength="70.5" lengthAdjust="spacingAndGlyphs">E1-16 (4x)</text>
<path d="M135.1 642.2 L218.8 642.2M218.8 642.2 L231.9 669M225.6 660.4 L231.9 669 L229 658.7" stroke-width="1.59"/>
<text x="29.6" y="669.7" font-size="15.5" textLength="70.5" lengthAdjust="spacingAndGlyphs">E1-20 (5x)</text>
<path d="M29.2 672.3 L108.9 672.3M108.9 672.3 L115.8 694.6M110.9 685.1 L115.8 694.6 L114.5 684" stroke-width="1.59"/>
<text x="164.7" y="857.1" font-size="15.5" textLength="79.5" lengthAdjust="spacingAndGlyphs">E1-19 (10x)</text>
<path d="M154.1 861.3 L245 861.3M154.1 861.3 L136.7 791.7M141.1 801.4 L136.7 791.7 L137.4 802.3" stroke-width="1.59"/>
<text x="96" y="886.5" font-size="15.5" textLength="71.5" lengthAdjust="spacingAndGlyphs">E1-13 (5x)</text>
<path d="M88 890.1 L167.8 890.1M88 890.1 L54.3 818.8M60.5 827.5 L54.3 818.8 L57.1 829.1" stroke-width="1.59"/>
<path d="M409.6 752.1 L418 747.7" stroke-width="5.61"/>
<path d="M409.6 752.1 L418 747.7" stroke-width="2.44" stroke="#fff"/>
<circle cx="409.6" cy="752.1" r="4.6" fill="#111" stroke="none"/>
<path d="M409 750.5 l1.4 1.2 M411.2 753.3 l0.8 1" stroke="#ddd" stroke-width="0.85"/>
<path d="M410.9 766.4 L419.4 762" stroke-width="5.61"/>
<path d="M410.9 766.4 L419.4 762" stroke-width="2.44" stroke="#fff"/>
<circle cx="410.9" cy="766.4" r="4.6" fill="#111" stroke="none"/>
<path d="M410.3 764.8 l1.4 1.2 M412.5 767.6 l0.8 1" stroke="#ddd" stroke-width="0.85"/>
<text x="351.5" y="753.8" font-size="15.5" textLength="23.5" lengthAdjust="spacingAndGlyphs">F17</text>
<path d="M350.5 756.6 L389.3 756.6M389.3 756.6 L405.5 750.1M395.9 755.8 L405.5 750.1 L394.7 752.6M389.3 756.6 L407 764.4M396.2 761.5 L407 764.4 L397.6 758.4" stroke-width="1.59"/>
<path d="M533.5 816.3 L645.2 880.4 L645.2 1035.3 L533.5 971.4Z"/>
<path d="M536.1 818.6 L536.1 971.6" stroke-width="1.22"/>
<path d="M536.1 969.3 L645.2 1032" stroke-width="1.22"/>
<path d="M533.5 816.3 L539.2 813.2 L566.1 799.6 L676 863.3 L652 876.6"/>
<path d="M539.2 813.2 L652 876.6 L652 1031.6 L645.2 1035.3"/>
<path d="M654.6 875.5 L654.6 1030" stroke-width="1.22"/>
<path d="M533.5 816.3 L539.3 813.1M537.6 818.7 L543.4 815.5M541.8 821 L547.6 817.8M545.9 823.4 L551.7 820.2M550 825.8 L555.8 822.6M554.2 828.2 L560 825M558.3 830.5 L564.1 827.3M562.5 832.9 L568.3 829.7M566.6 835.3 L572.4 832.1M570.7 837.7 L576.5 834.5M574.9 840 L580.7 836.8M579 842.4 L584.8 839.2M583.1 844.8 L588.9 841.6M587.3 847.2 L593.1 844M591.4 849.5 L597.2 846.3M595.6 851.9 L601.4 848.7M599.7 854.3 L605.5 851.1M603.8 856.7 L609.6 853.5M608 859 L613.8 855.8M612.1 861.4 L617.9 858.2M616.2 863.8 L622 860.6M620.4 866.2 L626.2 863M624.5 868.5 L630.3 865.3M628.7 870.9 L634.5 867.7M632.8 873.3 L638.6 870.1M636.9 875.7 L642.7 872.5M641.1 878 L646.9 874.8M645.2 880.4 L651 877.2M645.2 885 L652 881.2M645.2 889.5 L652 885.7M645.2 894.1 L652 890.3M645.2 898.6 L652 894.8M645.2 903.2 L652 899.4M645.2 907.7 L652 903.9M645.2 912.3 L652 908.5M645.2 916.8 L652 913M645.2 921.4 L652 917.6M645.2 926 L652 922.2M645.2 930.5 L652 926.7M645.2 935.1 L652 931.3M645.2 939.6 L652 935.8M645.2 944.2 L652 940.4M645.2 948.7 L652 944.9M645.2 953.3 L652 949.5M645.2 957.8 L652 954M645.2 962.4 L652 958.6M645.2 967 L652 963.2M645.2 971.5 L652 967.7M645.2 976.1 L652 972.3M645.2 980.6 L652 976.8M645.2 985.2 L652 981.4M645.2 989.7 L652 985.9M645.2 994.3 L652 990.5M645.2 998.9 L652 995.1M645.2 1003.4 L652 999.6M645.2 1008 L652 1004.2M645.2 1012.5 L652 1008.7M645.2 1017.1 L652 1013.3M645.2 1021.6 L652 1017.8M645.2 1026.2 L652 1022.4M645.2 1030.7 L652 1026.9M645.2 1035.3 L652 1031.5" stroke-width="1.22"/>
<path d="M655.8 880.2 L675 869 L676.6 871.2 L674.4 874M655.8 886.4 L675 875.2 L676.6 877.4 L674.4 880.2M655.8 892.6 L675 881.4 L676.6 883.6 L674.4 886.4M655.8 898.8 L675 887.6 L676.6 889.8 L674.4 892.6M655.8 905 L675 893.8 L676.6 896 L674.4 898.8M655.8 911.2 L675 900 L676.6 902.2 L674.4 905M655.8 917.4 L675 906.2 L676.6 908.4 L674.4 911.2M655.8 923.6 L675 912.4 L676.6 914.6 L674.4 917.4M655.8 929.8 L675 918.6 L676.6 920.8 L674.4 923.6M655.8 936 L675 924.8 L676.6 927 L674.4 929.8M655.8 942.2 L675 931 L676.6 933.2 L674.4 936M655.8 948.4 L675 937.2 L676.6 939.4 L674.4 942.2M655.8 954.6 L675 943.4 L676.6 945.6 L674.4 948.4M655.8 960.8 L675 949.6 L676.6 951.8 L674.4 954.6M655.8 967 L675 955.8 L676.6 958 L674.4 960.8M655.8 973.2 L675 962 L676.6 964.2 L674.4 967M655.8 979.4 L675 968.2 L676.6 970.4 L674.4 973.2M655.8 985.6 L675 974.4 L676.6 976.6 L674.4 979.4M655.8 991.8 L675 980.6 L676.6 982.8 L674.4 985.6M655.8 998 L675 986.8 L676.6 989 L674.4 991.8M655.8 1004.2 L675 993 L676.6 995.2 L674.4 998M655.8 1010.4 L675 999.2 L676.6 1001.4 L674.4 1004.2M655.8 1016.6 L675 1005.4 L676.6 1007.6 L674.4 1010.4M655.8 1022.8 L675 1011.6 L676.6 1013.8 L674.4 1016.6M655.8 1029 L675 1017.8 L676.6 1020 L674.4 1022.8" stroke-width="2.07" stroke-linejoin="miter"/>
<path d="M652 1031.6 L672 1020" stroke-width="1.83"/>
<path d="M616.8 969.5 L621.5 971.4 L621.5 1013.2 L616.8 1011.3ZM634.8 981.5 L639.9 983.4 L639.9 1023.3 L634.8 1021.4Z" stroke-width="2.2"/>
<circle cx="584.5" cy="853.4" r="1.5" fill="#000" stroke="none"/>
<circle cx="541.5" cy="872.3" r="1.5" fill="#000" stroke="none"/>
<circle cx="565.5" cy="875.5" r="1.5" fill="#000" stroke="none"/>
<circle cx="547.8" cy="930.9" r="1.5" fill="#000" stroke="none"/>
<circle cx="564.6" cy="941" r="1.5" fill="#000" stroke="none"/>
<circle cx="604.1" cy="943.5" r="1.5" fill="#000" stroke="none"/>
<circle cx="590.8" cy="958.4" r="1.5" fill="#000" stroke="none"/>
<circle cx="547.8" cy="962.5" r="1.5" fill="#000" stroke="none"/>
<circle cx="590.8" cy="998.9" r="1.5" fill="#000" stroke="none"/>
<circle cx="628.5" cy="983.1" r="1.5" fill="#000" stroke="none"/>
<circle cx="628.5" cy="1010" r="1.5" fill="#000" stroke="none"/>
<circle cx="641.1" cy="1028.4" r="1.5" fill="#000" stroke="none"/>
<text x="643.5" y="1070.8" font-size="15.5" textLength="32.5" lengthAdjust="spacingAndGlyphs">E1-4</text>
<path d="M636.7 1074.2 L676.9 1074.2M636.7 1074.2 L608.9 1017M615.2 1025.6 L608.9 1017 L611.8 1027.3" stroke-width="1.59"/>
<path d="M463.3 865.1 L486.6 865.1" stroke-width="1.59" stroke-linecap="butt" stroke-dasharray="44 5.5 6 5.5" stroke-dashoffset="12"/>
<path d="M486.6 865.1 L486.6 955.3" stroke-width="1.59" stroke-linecap="butt" stroke-dasharray="44 5.5 6 5.5" stroke-dashoffset="20"/>
<path d="M463.3 955.3 L486.6 955.3" stroke-width="1.59"/>
<path d="M463.3 865.1 L463.3 955.3" stroke-width="1.59" stroke-linecap="butt" stroke-dasharray="44 5.5 6 5.5" stroke-dashoffset="5"/>
<path d="M495.7 864.9 L521.5 864.9" stroke-width="1.59" stroke-linecap="butt" stroke-dasharray="44 5.5 6 5.5" stroke-dashoffset="12"/>
<path d="M521.5 864.9 L521.5 955.5" stroke-width="1.59" stroke-linecap="butt" stroke-dasharray="44 5.5 6 5.5" stroke-dashoffset="20"/>
<path d="M495.7 955.5 L521.5 955.5" stroke-width="1.59" stroke-linecap="butt" stroke-dasharray="44 5.5 6 5.5" stroke-dashoffset="-10"/>
<path d="M495.7 864.9 L495.7 955.5" stroke-width="1.59" stroke-linecap="butt" stroke-dasharray="44 5.5 6 5.5" stroke-dashoffset="5"/>
<text x="469" y="951.5" font-size="17.5" textLength="15" lengthAdjust="spacingAndGlyphs">5x</text>
<text x="503.6" y="951.5" font-size="17.5" textLength="15.2" lengthAdjust="spacingAndGlyphs">4x</text>
<path d="M472.4 877.2 L478.6 873.7" stroke-width="4.64"/>
<path d="M475.4 875.5 L478.6 873.7" stroke-width="1.34" stroke="#fff"/>
<circle cx="472.4" cy="877.2" r="3.4" fill="#111" stroke="none"/>
<path d="M472 891 L478.2 887.5" stroke-width="4.64"/>
<path d="M475 889.3 L478.2 887.5" stroke-width="1.34" stroke="#fff"/>
<circle cx="472" cy="891" r="3.4" fill="#111" stroke="none"/>
<path d="M472 903.7 L478.2 900.2" stroke-width="4.64"/>
<path d="M475 902 L478.2 900.2" stroke-width="1.34" stroke="#fff"/>
<circle cx="472" cy="903.7" r="3.4" fill="#111" stroke="none"/>
<path d="M472 917.1 L478.2 913.6" stroke-width="4.64"/>
<path d="M475 915.4 L478.2 913.6" stroke-width="1.34" stroke="#fff"/>
<circle cx="472" cy="917.1" r="3.4" fill="#111" stroke="none"/>
<path d="M472.8 930.2 L479 926.7" stroke-width="4.64"/>
<path d="M475.8 928.5 L479 926.7" stroke-width="1.34" stroke="#fff"/>
<circle cx="472.8" cy="930.2" r="3.4" fill="#111" stroke="none"/>
<path d="M505.6 876.8 L513.2 873" stroke-width="5.37" stroke-linecap="round"/>
<path d="M505.6 876.8 L513.2 873" stroke-width="2.2" stroke="#fff" stroke-linecap="round"/>
<ellipse cx="505.6" cy="876.8" rx="2.8" ry="4.2" fill="#fff" stroke-width="1.83" transform="rotate(-26.3 505.6 876.8)"/>
<ellipse cx="504.8" cy="877.2" rx="1.54" ry="2.604" fill="#222" stroke="none" transform="rotate(-26.3 504.8 877.2)"/>
<path d="M505.6 890.6 L513.2 886.8" stroke-width="5.37" stroke-linecap="round"/>
<path d="M505.6 890.6 L513.2 886.8" stroke-width="2.2" stroke="#fff" stroke-linecap="round"/>
<ellipse cx="505.6" cy="890.6" rx="2.8" ry="4.2" fill="#fff" stroke-width="1.83" transform="rotate(-26.3 505.6 890.6)"/>
<ellipse cx="504.8" cy="891" rx="1.54" ry="2.604" fill="#222" stroke="none" transform="rotate(-26.3 504.8 891)"/>
<path d="M505.6 903.3 L513.2 899.5" stroke-width="5.37" stroke-linecap="round"/>
<path d="M505.6 903.3 L513.2 899.5" stroke-width="2.2" stroke="#fff" stroke-linecap="round"/>
<ellipse cx="505.6" cy="903.3" rx="2.8" ry="4.2" fill="#fff" stroke-width="1.83" transform="rotate(-26.3 505.6 903.3)"/>
<ellipse cx="504.8" cy="903.7" rx="1.54" ry="2.604" fill="#222" stroke="none" transform="rotate(-26.3 504.8 903.7)"/>
<path d="M505.6 916.3 L513.2 912.5" stroke-width="5.37" stroke-linecap="round"/>
<path d="M505.6 916.3 L513.2 912.5" stroke-width="2.2" stroke="#fff" stroke-linecap="round"/>
<ellipse cx="505.6" cy="916.3" rx="2.8" ry="4.2" fill="#fff" stroke-width="1.83" transform="rotate(-26.3 505.6 916.3)"/>
<ellipse cx="504.8" cy="916.7" rx="1.54" ry="2.604" fill="#222" stroke="none" transform="rotate(-26.3 504.8 916.7)"/>
<text x="412" y="799.6" font-size="15.5" textLength="63.5" lengthAdjust="spacingAndGlyphs">E1-5 (5x)</text>
<path d="M412 802.7 L488 802.7M488 802.7 L475.9 863.8M476.1 853.1 L475.9 863.8 L479.8 853.9" stroke-width="1.59"/>
<text x="516.3" y="782.2" font-size="15.5" textLength="63.5" lengthAdjust="spacingAndGlyphs">E1-6 (4x)</text>
<path d="M501.9 785.3 L580.4 785.3M501.9 785.3 L509.2 862.8M506.3 852.5 L509.2 862.8 L510.1 852.2" stroke-width="1.59"/>
<path d="M732.3 707.6 L708.2 721 L708.2 847.1 L732.3 834.4M732.3 702.9 L732.3 834.4 L779.3 912.2 L781.6 910.8 L781.6 760.6 L901 827.7M708.2 847.1 L718.9 842.8 L769.2 899.8 L779.3 912.2M718.9 842.8 L732.3 834.4M901 801.5 L910.1 803.5 L910.1 834.4 L903.4 842.8 L901 827.7 L901 801.5M720.6 767.9 L727.3 765.6 L727.9 770.6 L721.2 773.3ZM727.9 853.8 L734 850.5 L737.3 856.2 L731.3 859.5ZM905.7 817.6 L905.7 820.3M905.7 824.3 L905.7 827"/>
<path d="M732.3 702.9 L901 801.5" stroke-width="2.44"/>
<path d="M749.1 737.8 L749.1 780" stroke-width="7.81"/>
<path d="M749.1 737.8 L749.1 780" stroke-width="4.15" stroke="#fff"/>
<path d="M750.1 738.3 L750.1 780.5" stroke-width="1.22"/>
<path d="M765.9 747.2 L765.9 790.1" stroke-width="7.81"/>
<path d="M765.9 747.2 L765.9 790.1" stroke-width="4.15" stroke="#fff"/>
<path d="M766.9 747.7 L766.9 790.6" stroke-width="1.22"/>
<path d="M758.1 794.8 L758.1 847.8" stroke-width="7.81"/>
<path d="M758.1 794.8 L758.1 847.8" stroke-width="4.15" stroke="#fff"/>
<path d="M759.1 795.3 L759.1 848.3" stroke-width="1.22"/>
<path d="M793.7 752.5 L829.3 772.6" stroke-width="7.32"/>
<path d="M793.7 752.5 L829.3 772.6" stroke-width="3.66" stroke="#fff"/>
<path d="M794.7 753 L830.3 773.1" stroke-width="1.22"/>
<path d="M844.7 781.4 L880.2 801.5" stroke-width="7.32"/>
<path d="M844.7 781.4 L880.2 801.5" stroke-width="3.66" stroke="#fff"/>
<path d="M845.7 781.9 L881.2 802" stroke-width="1.22"/>
<text x="645" y="758.9" font-size="15.5" textLength="31.5" lengthAdjust="spacingAndGlyphs">E1-7</text>
<path d="M644.4 761.2 L690.4 761.2M690.4 761.2 L707.8 779M699.1 772.8 L707.8 779 L701.8 770.2" stroke-width="1.59"/>
<path d="M796.7 700.2 L908.4 763.9 L911.1 770.6 L909.1 773 L796.7 707.6Z"/>
<path d="M797.4 702.2 L910.1 766.3" stroke-width="0.85"/>
<text x="819.3" y="695.2" font-size="15.5" textLength="32" lengthAdjust="spacingAndGlyphs">E1-8</text>
<path d="M818.5 698.5 L864.1 698.5M864.1 698.5 L874.2 741.1M869.9 731.3 L874.2 741.1 L873.6 730.4" stroke-width="1.59"/>
<path d="M926.9 830.3 L920.3 826.8" stroke-width="5.25" stroke-linecap="round"/>
<path d="M926.9 830.3 L920.3 826.8" stroke-width="2.07" stroke="#fff" stroke-linecap="round"/>
<ellipse cx="926.9" cy="830.3" rx="2.7" ry="4.4" fill="#fff" stroke-width="1.83" transform="rotate(-152.1 926.9 830.3)"/>
<ellipse cx="927.7" cy="830.7" rx="1.4850000000000003" ry="2.728" fill="#222" stroke="none" transform="rotate(-152.1 927.7 830.7)"/>
<text x="867.3" y="874" font-size="15.5" textLength="32" lengthAdjust="spacingAndGlyphs">E1-2</text>
<path d="M866.5 877.3 L913.5 877.3M913.5 877.3 L925.2 836M924.2 846.6 L925.2 836 L920.5 845.6" stroke-width="1.59"/>
<clipPath id="cw"><path d="M350.4 949 L361.2 947 L493.6 1013.9 L479.4 1039.6 L458 1055.2 L409.6 1070.9 L399.7 1066.6 L399.7 1153.5 L351.2 1070.9Z"/></clipPath>
<path d="M360.9 928.5 L360.9 1170.6M378.3 928.5 L378.3 1170.6M398.2 928.5 L398.2 1170.6M417.9 928.5 L417.9 1170.6M438.4 928.5 L438.4 1170.6M458 928.5 L458 1170.6M476.6 928.5 L476.6 1170.6" stroke-width="2.81" clip-path="url(#cw)"/>
<path d="M349.8 941.6 L506.5 1027.7M349.8 953.8 L506.5 1040M349.8 966.1 L506.5 1052.2M349.8 978.3 L506.5 1064.5M349.8 990.6 L506.5 1076.7M349.8 1002.8 L506.5 1089M349.8 1015.1 L506.5 1101.2M349.8 1027.3 L506.5 1113.5M349.8 1039.6 L506.5 1125.7M349.8 1051.8 L506.5 1138M349.8 1064.1 L506.5 1150.2M349.8 1076.3 L506.5 1162.5M349.8 1088.5 L506.5 1174.7M349.8 1100.8 L506.5 1186.9M349.8 1113 L506.5 1199.2M349.8 1125.3 L506.5 1211.4M349.8 1137.5 L506.5 1223.7M349.8 1149.8 L506.5 1235.9" stroke-width="2.32" clip-path="url(#cw)"/>
<path d="M399.7 970.9 L489.4 1020.2M399.7 974.3 L489.4 1023.6" stroke-width="1.22" clip-path="url(#cw)"/>
<path d="M349.1 966.2 L394.9 989.9 L394.9 1035 L388.6 1036.6 L349.1 1016Z" fill="#fff"/>
<path d="M388.6 990.7 L391 989.9 L394.9 992.3M388.6 1033.4 L391 1032.6 L394.9 1035"/>
<circle cx="370.4" cy="1008.9" r="3.8" fill="#fff"/><circle cx="371.2" cy="1008.3" r="2.4"/>
<circle cx="443.8" cy="1018.2" r="3.2" fill="#fff"/><circle cx="444.6" cy="1017.6" r="1.7999999999999998"/>
<circle cx="427.6" cy="1064.6" r="3.2" fill="#fff"/><circle cx="428.4" cy="1064" r="1.7999999999999998"/>
<circle cx="373.2" cy="1088" r="3.2" fill="#fff"/><circle cx="374" cy="1087.4" r="1.7999999999999998"/>
<circle cx="394" cy="1085.7" r="3.2" fill="#fff"/><circle cx="394.8" cy="1085.1" r="1.7999999999999998"/>
<circle cx="393.1" cy="1129.3" r="3.2" fill="#fff"/><circle cx="393.9" cy="1128.7" r="1.7999999999999998"/>
<ellipse cx="448.6" cy="1040.1" rx="1.3" ry="1.8" stroke-width="1.95"/>
<ellipse cx="406.2" cy="1058.9" rx="1.3" ry="1.8" stroke-width="1.95"/>
<path d="M319.9 942.7 L354.1 918.5 L533.5 1021 L534.4 1039.6 L527.8 1048.1M319.9 942.7 L321.3 947.8 L339.8 953.5 L361.2 946.4 L375.4 945.6 L493.6 1013.9 L477.7 1041.3 L504.2 1047.8 L514.4 1035.3 L517.6 1029.3 L533.5 1021M361.2 946.4 L493.6 1013.9M319.9 942.7 L319.9 961.2 L315.6 966.1 L315.6 1096.5 L318.5 1099.4 L308.5 1115 L308.5 1125 L351.2 1190.5 L388.3 1213.3 L442.4 1203.3 L512.2 1246 L534.9 1224.7 L534.9 1207.6 L529.2 1199.1M321.3 961.2 L321.3 1099.4M388.3 1213.3 L388.3 1209.9 L442.4 1199.6 L442.4 1203.3M366.9 922.8 L367.5 920.5 L375.4 924.2 L375.4 928.5M321.3 1012.5 L348.4 999.7 L354.9 1002 L354.9 1005.4 L351.2 1006.8 L329.9 1016.8 L321.3 1016.2M321.3 1078 L350.4 1063.8 L356.9 1066.6 L353.2 1070.3 L329.9 1082.3 L321.3 1081.7M321.9 961.2 L339.8 953.5M325.6 966.1 L332.7 967.2 L354.1 955.8M318.5 1099.4 L329.9 1088 L337 1096.5 L337 1099.4 L317.1 1110.2M329.9 1088 L332.7 1085.1 L337 1088 L337 1096.5M308.5 1115 L310.5 1116.5 L351.2 1187.1 L399.7 1160.6 L357.8 1085.1M351.2 1187.1 L388.3 1209.9M351.2 1070.9 L399.7 1153.5M319.9 1157.8 L331.3 1175.7 L337.8 1172 L339.8 1175.7M399.7 1066.6 L399.7 1160.6 L421 1172M403.1 1068 L403.1 1158.6 L422.4 1166.3 L425.3 1159.7 L449.5 1173.4M409.6 1070.9 L409.6 1153.5 L423.9 1157.8 L460.9 1164.9 L475.1 1170.6 L489.4 1173.4M409.6 1070.9 L458 1055.2 L458 1036.7M458 1055.2 L479.4 1065.2M527.8 1048.1 L527.8 1199.1M517.8 1059.5 L517.8 1184.8"/>
<path d="M376.9 1199.6 L411 1179.1" stroke-width="2.93"/>
<path d="M411 1179.1 L412.5 1172 L417.6 1169.1 L418.7 1175.7M426.7 1200.5 L438.1 1190.5 L439.5 1184.8 L445.2 1182 L446.1 1187.1"/>
<ellipse cx="340.7" cy="1182" rx="1.5" ry="1.1" stroke-width="1.83"/>
<ellipse cx="361.2" cy="1189.9" rx="1.5" ry="1.1" stroke-width="1.83"/>
<ellipse cx="396.8" cy="1204.2" rx="1.5" ry="1.1" stroke-width="1.83"/>
<ellipse cx="456.6" cy="1186.2" rx="1.5" ry="1.1" stroke-width="1.83"/>
<ellipse cx="336.4" cy="1151.2" rx="1.3" ry="2.6" transform="rotate(25 336.4 1151.2)"/>
<path d="M421.9 1161.6 L503 1205.5M423.6 1166.7 L501.3 1209.7M421.9 1161.6 L421.9 1174.3M410.1 1179.3 L412.7 1171.7 L419.4 1167.5 L421.9 1161.6M436.3 1194.5 L439.7 1187.8 L445.6 1185.2 L448.9 1178.5M463.3 1210.5 L466.7 1203 L472.6 1200.4 L475.9 1193.7M498.7 1230.8 L501.3 1223.2 L505.5 1221.5M448.9 1178.5 L448.9 1189.5 L436.3 1197M475.9 1193.7 L475.9 1204.6 L465 1211.4M449.8 1189.5 L499.6 1218.1M440.5 1201.3 L509.7 1245.1 L535 1224.9 L535 1208 L526.6 1199.6M440.5 1204.3 L510.5 1246.5 L518.1 1241.8M504.6 1172.6 L524.9 1161.6 L525.7 1228.3 L508 1233.3 L504.6 1230 L504.6 1172.6M511.4 1170.9 L511.4 1194.5 L505.5 1201.3M481.9 1179.3 L491.1 1170.9 L497 1183.5 L492 1187.8 L481.9 1179.3M497 1183.5 L511.4 1161.6 L524.9 1160.8M508 1233.3 L511.4 1240.1 L518.1 1235 L525.7 1228.3M525.7 1228.3 L533.3 1216.5 L535 1224.9"/>
<circle cx="457" cy="1186.4" r="1.4" stroke-width="1.83"/>
<rect x="508.0" y="1181.9" width="3" height="6" stroke-width="1.34"/>
<path d="M478.3 1065.6 L508.6 1048.6 L496.8 1072.2 L492.4 1073.7ZM492.4 1073.7 L492.4 1181.5M496.8 1072.2 L496.8 1184.5M508.6 1048.6 L513.8 1045.7 L513.8 1177.1M477.6 1041.2 L504.2 1047.9 L514.5 1035.3M477.6 1041.2 L477.6 1054.5 L489.4 1058.9M493.1 1048.6 L493.1 1055.3M518.2 1046.4 L534.5 1036.8 L534.5 1020.5M518.9 1029.4 L518.9 1047.1M518.9 1048.6 L530.8 1047.1 L530.8 1069.3 L520.4 1075.2M523.4 1051.6 L526.3 1054.5 L523.4 1061.9 L528.5 1061.9M520.4 1078.1 L529.3 1076.7 L534.5 1070 L530.8 1067.8M529.3 1076.7 L529.3 1084.1 L534.5 1091.4 L520.4 1100.3M518.2 1079.6 L518.2 1144.6M520.4 1101.8 L529.3 1100.3 L530.8 1103.2 L526.3 1109.2 L520.4 1109.2M521.9 1110.6 L527.8 1116.5 L530.8 1121 L529.3 1123.9 L523.4 1119.5M513.8 1140 L513.8 1119.5 L517.5 1115.1M510.1 1063.4 L514.5 1054.5 L521.9 1051.6M521.9 1126.9 L526.3 1131.3 L521.9 1140.2M523.4 1146.1 L529.3 1141.6 L530.8 1156.4"/>
<ellipse cx="502" cy="1078.1" rx="1" ry="1.6" transform="rotate(25 502 1078.1)" stroke-width="1.71"/>
<ellipse cx="504.2" cy="1115.1" rx="1" ry="1.6" transform="rotate(25 504.2 1115.1)" stroke-width="1.71"/>
<ellipse cx="499.7" cy="1122.4" rx="1" ry="1.6" transform="rotate(25 499.7 1122.4)" stroke-width="1.71"/>
<ellipse cx="502.7" cy="1156.4" rx="1" ry="1.6" transform="rotate(25 502.7 1156.4)" stroke-width="1.71"/>
<ellipse cx="491.2" cy="1082.6" rx="1" ry="2.4" stroke-width="1.71"/>
<ellipse cx="490.9" cy="1116.5" rx="1" ry="2.4" stroke-width="1.71"/>
<path d="M378.9 949.6 a1.4 1.4 0 0 0 2.6 1.4M387 954.3 a1.4 1.4 0 0 0 2.6 1.4M395.1 959 a1.4 1.4 0 0 0 2.6 1.4M403.3 963.8 a1.4 1.4 0 0 0 2.6 1.4M411.4 968.5 a1.4 1.4 0 0 0 2.6 1.4M419.5 973.3 a1.4 1.4 0 0 0 2.6 1.4M427.7 978 a1.4 1.4 0 0 0 2.6 1.4M435.8 982.7 a1.4 1.4 0 0 0 2.6 1.4M444 987.5 a1.4 1.4 0 0 0 2.6 1.4M452.1 992.2 a1.4 1.4 0 0 0 2.6 1.4M460.2 997 a1.4 1.4 0 0 0 2.6 1.4M468.4 1001.7 a1.4 1.4 0 0 0 2.6 1.4M476.5 1006.4 a1.4 1.4 0 0 0 2.6 1.4M484.6 1011.2 a1.4 1.4 0 0 0 2.6 1.4" stroke-width="1.95"/>
<text x="441.7" y="1257" font-size="15.5" textLength="32.5" lengthAdjust="spacingAndGlyphs">E1-3</text>
<path d="M434 1260.5 L476.5 1260.5M434 1260.5 L415.2 1212.5M420.8 1221.6 L415.2 1212.5 L417.3 1223" stroke-width="1.59"/>
<path d="M297.6 1183.2 L307.5 1178" stroke-width="5.25" stroke-linecap="round"/>
<path d="M297.6 1183.2 L307.5 1178" stroke-width="2.07" stroke="#fff" stroke-linecap="round"/>
<ellipse cx="297.6" cy="1183.2" rx="2.7" ry="4.4" fill="#fff" stroke-width="1.83" transform="rotate(-27.7 297.6 1183.2)"/>
<ellipse cx="296.8" cy="1183.6" rx="1.4850000000000003" ry="2.728" fill="#222" stroke="none" transform="rotate(-27.7 296.8 1183.6)"/>
<text x="355" y="1255.8" font-size="15.5" textLength="32.5" lengthAdjust="spacingAndGlyphs">E1-2</text>
<path d="M347.4 1259.2 L388.7 1259.2M347.4 1259.2 L307 1182.6M313.6 1191 L307 1182.6 L310.2 1192.8" stroke-width="1.59"/>
<path d="M113.3 1063.9 Q113.3 1061.4 115.5 1062.6L273.7 1151.2 Q275.9 1152.4 275.9 1154.9L275.9 1350.2 Q275.9 1352.7 274.1 1352.7L274.1 1352.7 Q272.4 1352.7 270.2 1351.4L160.8 1288.1 Q158.6 1286.8 157.4 1284.6L114.5 1209.5 Q113.3 1207.3 113.3 1204.8Z"/>
<path d="M114.7 1060.8 L277 1151.6 L277 1352.1" stroke-width="2.68"/>
<path d="M273.2 1155.2 L273.2 1351.3" stroke-width="1.22"/>
<path d="M148.4 1089.4 L153.6 1087.2 L177.2 1101.7 L172.3 1103.9ZM148.4 1089.4 L148.4 1095.4 L172.3 1109.9 L177.2 1107.7 L177.2 1101.7M172.3 1103.9 L172.3 1109.9" fill="#fff"/>
<path d="M186.5 1112.7 L189.3 1110.8 L192.6 1112.7 L189.8 1114.9ZM186.5 1112.7 L186.5 1117.6 L189.8 1119.8 L192.6 1117.6 L192.6 1112.7M189.8 1114.9 L189.8 1119.8" stroke-width="1.34" fill="#fff"/>
<path d="M195.6 1116.8 L198.3 1114.9 L201.6 1116.8 L198.9 1119ZM195.6 1116.8 L195.6 1121.7 L198.9 1123.9 L201.6 1121.7 L201.6 1116.8M198.9 1119 L198.9 1123.9" stroke-width="1.34" fill="#fff"/>
<path d="M189.3 1124.5 L192 1122.6 L195.3 1124.5 L192.6 1126.7ZM189.3 1124.5 L189.3 1129.4 L192.6 1131.6 L195.3 1129.4 L195.3 1124.5M192.6 1126.7 L192.6 1131.6" stroke-width="1.34" fill="#fff"/>
<path d="M195.6 1127.2 L198.3 1125.3 L201.6 1127.2 L198.9 1129.4ZM195.6 1127.2 L195.6 1132.2 L198.9 1134.3 L201.6 1132.2 L201.6 1127.2M198.9 1129.4 L198.9 1134.3" stroke-width="1.34" fill="#fff"/>
<path d="M224.9 1134.6 L229.3 1131.9 L234 1134.9 L229.9 1137.6ZM224.9 1134.6 L224.9 1174.4 L229.9 1177.4 L234 1174.7 L234 1134.9M229.9 1137.6 L229.9 1177.4" fill="#fff"/>
<path d="M224.9 1147 L229.9 1149.7 L234 1147M224.9 1157.9 L229.9 1160.7 L234 1157.9M224.9 1167.5 L229.9 1170.3 L234 1167.5" stroke-width="1.22"/>
<path d="M236.7 1152.4 L240 1150.5 L243.6 1152.4 L240.3 1154.6ZM236.7 1152.4 L236.7 1164.8 L240.3 1167 L243.6 1164.8 L243.6 1152.4M240.3 1154.6 L240.3 1167" stroke-width="1.34" fill="#fff"/>
<path d="M237.6 1171.6 L242.2 1168.9 L257.8 1178.5 L253.5 1181ZM237.6 1171.6 L237.6 1175.5 L253.5 1184.8 L257.8 1182.3 L257.8 1178.5M253.5 1181 L253.5 1184.8" stroke-width="1.46" fill="#fff"/>
<path d="M236.7 1182.6 L240.8 1180.4 L258.7 1190.8 L254.6 1193ZM236.7 1182.6 L236.7 1186.5 L254.6 1196.9 L258.7 1194.7 L258.7 1190.8M254.6 1193 L254.6 1196.9" stroke-width="1.46" fill="#fff"/>
<path d="M221.1 1179.9 L227.1 1177.1 L234.8 1182.6 L228.8 1185.4ZM221.1 1179.9 L221.1 1186.5 L228.8 1191.9 L234.8 1189.2 L234.8 1182.6M228.8 1185.4 L228.8 1191.9" stroke-width="1.46" fill="#fff"/>
<path d="M235.4 1194.1 L239.5 1192.2 L243.6 1194.4 L239.7 1196.6ZM235.4 1194.1 L235.4 1198.5 L239.7 1201 L243.6 1198.8 L243.6 1194.4M239.7 1196.6 L239.7 1201" stroke-width="1.34" fill="#fff"/>
<path d="M262.2 1179.9 L265.5 1177.7 L268.8 1179.9 L265.5 1182.1ZM262.2 1179.9 L262.2 1196.3 L265.5 1198.5 L268.8 1196.3 L268.8 1179.9M265.5 1182.1 L265.5 1198.5" stroke-width="1.46" fill="#fff"/>
<path d="M250.4 1201.8 L254.6 1199.6 L271 1208.7 L267.2 1210.9ZM250.4 1201.8 L250.4 1204.8 L267.2 1213.9 L271 1211.7 L271 1208.7M267.2 1210.9 L267.2 1213.9" stroke-width="1.46" fill="#fff"/>
<path d="M235.4 1225.9 L238.6 1224 L242.5 1225.9 L239.2 1228.1ZM235.4 1225.9 L235.4 1234.7 L239.2 1236.9 L242.5 1234.7 L242.5 1225.9M239.2 1228.1 L239.2 1236.9" stroke-width="1.34" fill="#fff"/>
<path d="M239.2 1228.1 L242.5 1226.5 L246.3 1228.4 L243 1230.6ZM239.2 1228.1 L239.2 1236.4 L243 1238.8 L246.3 1236.6 L246.3 1228.4M243 1230.6 L243 1238.8" stroke-width="1.34" fill="#fff"/>
<path d="M242.2 1242.1 L246.3 1240.2 L251.3 1243 L247.2 1245.1ZM242.2 1242.1 L242.2 1257.2 L247.2 1260.2 L251.3 1258 L251.3 1243M247.2 1245.1 L247.2 1260.2" stroke-width="1.46" fill="#fff"/>
<path d="M246.3 1284.6 L251.8 1282.4 L257.8 1285.7 L252.6 1288.2ZM246.3 1284.6 L246.3 1290.7 L252.6 1294.2 L257.8 1291.8 L257.8 1285.7M252.6 1288.2 L252.6 1294.2" stroke-width="1.46" fill="#fff"/>
<ellipse cx="269.1" cy="1160.7" rx="2.2" ry="3.3" transform="rotate(-20 269.1 1160.7)" stroke-width="1.71"/>
<ellipse cx="226.3" cy="1259.4" rx="2.6" ry="4" transform="rotate(-20 226.3 1259.4)" stroke-width="1.71"/>
<ellipse cx="213.4" cy="1273.1" rx="2.6" ry="4" transform="rotate(-20 213.4 1273.1)" stroke-width="1.71"/>
<ellipse cx="170.4" cy="1278.6" rx="2.6" ry="4" transform="rotate(-20 170.4 1278.6)" stroke-width="1.71"/>
<ellipse cx="251.3" cy="1299.2" rx="2.2" ry="3.6" transform="rotate(-20 251.3 1299.2)" stroke-width="1.71"/>
<ellipse cx="251.3" cy="1326.6" rx="2.4" ry="3.8" transform="rotate(-20 251.3 1326.6)" stroke-width="1.71"/>
<ellipse cx="117.4" cy="1068.8" rx="2.2" ry="3.4" transform="rotate(-20 117.4 1068.8)" stroke-width="1.71"/>
<ellipse cx="131.1" cy="1077.8" rx="1.6" ry="1.9" transform="rotate(0 131.1 1077.8)" stroke-width="1.71"/>
<ellipse cx="244.4" cy="1303.3" rx="1.6" ry="1.9" transform="rotate(0 244.4 1303.3)" stroke-width="1.71"/>
<ellipse cx="244.4" cy="1312.9" rx="1.6" ry="1.9" transform="rotate(0 244.4 1312.9)" stroke-width="1.71"/>
<ellipse cx="250.4" cy="1312.1" rx="1.6" ry="1.9" transform="rotate(0 250.4 1312.1)" stroke-width="1.71"/>
<ellipse cx="120.2" cy="1103.6" rx="1.6" ry="1.9" transform="rotate(0 120.2 1103.6)" stroke-width="1.71"/>
<ellipse cx="119.3" cy="1084.7" rx="1" ry="1.2" transform="rotate(0 119.3 1084.7)" stroke-width="1.83"/>
<ellipse cx="118.2" cy="1109.9" rx="1" ry="1.2" transform="rotate(0 118.2 1109.9)" stroke-width="1.83"/>
<path d="M132.5 1164 L135.5 1160.7 L137.2 1164 L134.2 1167.5ZM148.1 1168.1 L152.5 1165.6 L156.6 1168.1 L152.5 1170.8Z" stroke-width="1.46"/>
<ellipse cx="187.4" cy="1191.4" rx="1" ry="1.8" fill="#000" transform="rotate(-30 187.4 1191.4)"/>
<path d="M130.6 1208.7 L159.9 1192.2 L178.3 1202.4 L178.3 1226.5 L149 1243 L149 1253.9 L130.6 1244.3ZM130.6 1208.7 L149 1218.8 L178.3 1202.4M149 1218.8 L149 1244.3" fill="#fff"/>
<path d="M149 1243 L178.3 1226.5 L209.3 1243 L209.3 1264.9 L180 1281.4 L149 1269ZM149 1243 L180 1259.4 L209.3 1243M180 1259.4 L180 1281.4" fill="#fff"/>
<path d="M170.1 1308.2 L210.7 1284.9 C224.7 1278.9 238.4 1295.6 230.4 1317.6 L186.5 1343.1 Z" fill="#fff"/>
<ellipse cx="179.1" cy="1325.2" rx="11.8" ry="18.3" fill="#fff" transform="rotate(-22 179.1 1325.2)"/>
<text x="329.2" y="1301.9" font-size="15.5" textLength="31.5" lengthAdjust="spacingAndGlyphs">E1-1</text>
<path d="M321.8 1305.5 L362.5 1305.5M321.8 1305.5 L276.5 1248.6M284.5 1255.6 L276.5 1248.6 L281.6 1258" stroke-width="1.59"/>
<path d="M108.7 1308.8 L116.9 1304.8" stroke-width="5.25" stroke-linecap="round"/>
<path d="M108.7 1308.8 L116.9 1304.8" stroke-width="2.07" stroke="#fff" stroke-linecap="round"/>
<ellipse cx="108.7" cy="1308.8" rx="2.7" ry="4.4" fill="#fff" stroke-width="1.83" transform="rotate(-25.9 108.7 1308.8)"/>
<ellipse cx="107.9" cy="1309.2" rx="1.4850000000000003" ry="2.728" fill="#222" stroke="none" transform="rotate(-25.9 107.9 1309.2)"/>
<text x="168.3" y="1385.5" font-size="15.5" textLength="32" lengthAdjust="spacingAndGlyphs">E1-2</text>
<path d="M160.5 1389 L201.5 1389M160.5 1389 L117 1310.4M123.7 1318.7 L117 1310.4 L120.4 1320.5" stroke-width="1.59"/>
<path d="M288.4 929.2 L295.8 924.8 L297.9 927.1 L297.9 1055.3 L291.4 1060 L288.4 1057.7ZM288.4 929.2 L291.4 931.3 L297.9 927.1M291.4 931.3 L291.4 1060"/>
<text x="224.7" y="949.3" font-size="15.5" textLength="33" lengthAdjust="spacingAndGlyphs">E1-8</text>
<path d="M224.3 952.8 L269.8 952.8M269.8 952.8 L287.5 978.7M280 971.1 L287.5 978.7 L283.1 969" stroke-width="1.59"/>
<path d="M257.4 1063.6 L280.5 1051.8 L284.6 1054.1 L284.6 1063 L261.9 1076.9 L257.4 1073.9ZM257.4 1063.6 L261.9 1066.5 L284.6 1054.1M261.9 1066.5 L261.9 1076.9"/>
<text x="206" y="1023.7" font-size="15.5" textLength="32.5" lengthAdjust="spacingAndGlyphs">E1-9</text>
<path d="M205.1 1027.2 L250.9 1027.2M250.9 1027.2 L268.6 1054.9M261.3 1047.1 L268.6 1054.9 L264.5 1045" stroke-width="1.59"/>
<path d="M84 1097.5 L93.8 1091.8" stroke-width="5.25" stroke-linecap="round"/>
<path d="M84 1097.5 L93.8 1091.8" stroke-width="2.07" stroke="#fff" stroke-linecap="round"/>
<ellipse cx="84" cy="1097.5" rx="2.7" ry="4.4" fill="#fff" stroke-width="1.83" transform="rotate(-30.4 84 1097.5)"/>
<ellipse cx="83.2" cy="1098" rx="1.4850000000000003" ry="2.728" fill="#222" stroke="none" transform="rotate(-30.4 83.2 1098)"/>
<text x="55.8" y="1052.3" font-size="15.5" textLength="32.5" lengthAdjust="spacingAndGlyphs">E1-2</text>
<path d="M48.3 1055.6 L89.1 1055.6M48.3 1055.6 L79.8 1094.8M71.7 1087.8 L79.8 1094.8 L74.7 1085.4" stroke-width="1.59"/>
<path d="M563.8 1061.5 L570.4 1057.1 L572.9 1058.7 L572.9 1212.8 L566.3 1217.5 L563.8 1215.7ZM563.8 1061.5 L566.3 1063 L572.9 1058.7M566.3 1063 L566.3 1217.2"/>
<path d="M565.1 1062.3 L565.1 1216.5" stroke-width="0.98"/>
<text x="598.3" y="1121.1" font-size="15.5" textLength="40.7" lengthAdjust="spacingAndGlyphs">E1-10</text>
<path d="M591.3 1123.8 L639.7 1123.8M591.3 1123.8 L572.9 1166M575.4 1155.6 L572.9 1166 L578.8 1157.1" stroke-width="1.59"/>
<text x="686.8" y="633.8" font-size="15.5" textLength="32.5" lengthAdjust="spacingAndGlyphs">E1-2</text>
<path d="M678.6 637.2 L720 637.2M678.6 637.2 L643.4 600.6M652 606.9 L643.4 600.6 L649.3 609.5M678.6 637.2 L639.2 667.7M646.3 659.8 L639.2 667.7 L648.7 662.8" stroke-width="1.59"/>
<path d="M639.8 598.7 L633.3 595.4" stroke-width="5.25" stroke-linecap="round"/>
<path d="M639.8 598.7 L633.3 595.4" stroke-width="2.07" stroke="#fff" stroke-linecap="round"/>
<ellipse cx="639.8" cy="598.7" rx="2.7" ry="4.4" fill="#fff" stroke-width="1.83" transform="rotate(-153.4 639.8 598.7)"/>
<ellipse cx="640.6" cy="599.1" rx="1.4850000000000003" ry="2.728" fill="#222" stroke="none" transform="rotate(-153.4 640.6 599.1)"/>
<path d="M636.9 670.8 L629.9 667.2" stroke-width="5.25" stroke-linecap="round"/>
<path d="M636.9 670.8 L629.9 667.2" stroke-width="2.07" stroke="#fff" stroke-linecap="round"/>
<ellipse cx="636.9" cy="670.8" rx="2.7" ry="4.4" fill="#fff" stroke-width="1.83" transform="rotate(-152.7 636.9 670.8)"/>
<ellipse cx="637.7" cy="671.2" rx="1.4850000000000003" ry="2.728" fill="#222" stroke="none" transform="rotate(-152.7 637.7 671.2)"/>
<text x="528.5" y="355.8" font-size="15.5" textLength="32.5" lengthAdjust="spacingAndGlyphs">E1-2</text>
<path d="M518.8 359.4 L561.9 359.4M518.8 359.4 L497.3 375.7M504.5 367.8 L497.3 375.7 L506.8 370.9" stroke-width="1.59"/>
<path d="M491.4 376.3 L498.9 379.1" stroke-width="5.25" stroke-linecap="round"/>
<path d="M491.4 376.3 L498.9 379.1" stroke-width="2.07" stroke="#fff" stroke-linecap="round"/>
<ellipse cx="491.4" cy="376.3" rx="2.7" ry="4.4" fill="#fff" stroke-width="1.83" transform="rotate(20.2 491.4 376.3)"/>
<ellipse cx="490.6" cy="376" rx="1.4850000000000003" ry="2.728" fill="#222" stroke="none" transform="rotate(20.2 490.6 376)"/>
<text x="410" y="448.6" font-size="15.5" textLength="39.8" lengthAdjust="spacingAndGlyphs">E1-12</text>
<path d="M400.5 452.2 L451.7 452.2M400.5 452.2 L410.6 479M405.1 469.8 L410.6 479 L408.7 468.5" stroke-width="1.59"/>
<text x="323.5" y="482" font-size="15.5" textLength="40.5" lengthAdjust="spacingAndGlyphs">E1-13</text>
<path d="M322.7 485.1 L372.7 485.1M372.7 485.1 L390.2 493.5M379.9 490.7 L390.2 493.5 L381.6 487.2" stroke-width="1.59"/>
<text x="499.5" y="614.5" font-size="15.5" textLength="40.2" lengthAdjust="spacingAndGlyphs">E1-14</text>
<path d="M490.1 617.5 L540.9 617.5M490.1 617.5 L483.3 579M487 589 L483.3 579 L483.3 589.7" stroke-width="1.59"/>
<text x="504.5" y="736.6" font-size="15.5" textLength="40.8" lengthAdjust="spacingAndGlyphs">E1-15</text>
<path d="M496.1 739.8 L546 739.8M496.1 739.8 L476.3 717.9M484.8 724.4 L476.3 717.9 L481.9 727" stroke-width="1.59"/>
<path d="M392.6 495 L399.7 497.9" stroke-width="4.88"/>
<path d="M395.7 496.2 L399.7 497.9" stroke-width="1.59" stroke="#fff"/>
<circle cx="392.6" cy="495" r="3.3" fill="#111" stroke="none"/>
<path d="M411.5 483.6 L417.2 485.9" stroke-width="5.12"/><path d="M411.5 483.6 L417.2 485.9" stroke-width="1.95" stroke="#fff"/>
<ellipse cx="411.4" cy="483.4" rx="2.6" ry="3.8" fill="#fff" stroke-width="1.95" transform="rotate(20 411.4 483.4)"/>
<ellipse cx="410.9" cy="483.2" rx="1.1" ry="2" fill="#222" stroke="none" transform="rotate(20 411 483.2)"/>
</svg>
</body></html>
